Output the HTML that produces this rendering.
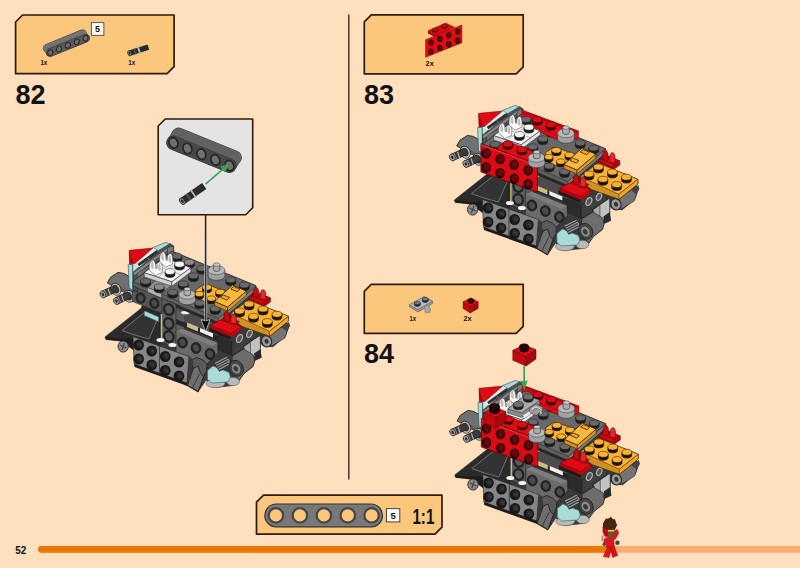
<!DOCTYPE html>
<html lang="en"><head><meta charset="utf-8"><title>Building instructions - page 52</title>
<style>
html,body{margin:0;padding:0;background:#FEE0BE;}
body{width:800px;height:568px;overflow:hidden;}
svg{display:block;}
text{font-family:"Liberation Sans",sans-serif;}
</style></head><body>
<svg width="800" height="568" viewBox="0 0 800 568">
<rect width="800" height="568" fill="#FEE0BE"/>
<line x1="348.8" y1="14.5" x2="348.8" y2="479.5" stroke="#3a2a1c" stroke-width="1.4"/>
<polygon points="22.6,15.0 174.1,15.0 174.1,66.7 167.1,73.7 15.6,73.7 15.6,22.0" fill="#FBC77D" stroke="#2e1a08" stroke-width="1.7" stroke-linejoin="round"/>
<polygon points="371.3,14.8 523.2,14.8 523.2,66.8 516.2,73.8 364.3,73.8 364.3,21.8" fill="#FBC77D" stroke="#2e1a08" stroke-width="1.7" stroke-linejoin="round"/>
<polygon points="371.3,284.3 523.2,284.3 523.2,326.3 516.2,333.3 364.3,333.3 364.3,291.3" fill="#FBC77D" stroke="#2e1a08" stroke-width="1.7" stroke-linejoin="round"/>
<text x="15.6" y="104.4" font-size="27" font-weight="bold" text-anchor="start" fill="#111">82</text>
<text x="364.0" y="104.3" font-size="27" font-weight="bold" text-anchor="start" fill="#111">83</text>
<text x="364.0" y="363.1" font-size="27" font-weight="bold" text-anchor="start" fill="#111">84</text>
<polygon points="165.2,119.0 252.7,119.0 252.7,207.8 245.7,214.8 158.2,214.8 158.2,126.0" fill="#E4E4E4" stroke="#2e1a08" stroke-width="1.6" stroke-linejoin="round"/>
<line x1="205.6" y1="215" x2="205.6" y2="240" stroke="#2a2a2a" stroke-width="1.6"/>
<polygon points="263.5,495.2 442.0,495.2 442.0,527.2 435.0,534.2 256.5,534.2 256.5,502.2" fill="#FBC77D" stroke="#2e1a08" stroke-width="1.7" stroke-linejoin="round"/>
<rect x="264.8" y="504" width="117.7" height="22.8" rx="11.4" fill="#787878" stroke="#333" stroke-width="1.2"/>
<circle cx="275.9" cy="515.4" r="7.2" fill="#FBC77D" stroke="#454545" stroke-width="2.2"/>
<circle cx="299.9" cy="515.4" r="7.2" fill="#FBC77D" stroke="#454545" stroke-width="2.2"/>
<circle cx="323.9" cy="515.4" r="7.2" fill="#FBC77D" stroke="#454545" stroke-width="2.2"/>
<circle cx="347.8" cy="515.4" r="7.2" fill="#FBC77D" stroke="#454545" stroke-width="2.2"/>
<circle cx="371.6" cy="515.4" r="7.2" fill="#FBC77D" stroke="#454545" stroke-width="2.2"/>
<rect x="386.4" y="508.7" width="13.4" height="13.2" fill="#fff" stroke="#333" stroke-width="0.9"/>
<text x="393.1" y="518.7" font-size="9.5" font-weight="bold" text-anchor="middle" fill="#111">5</text>
<text x="412.4" y="524.0" font-size="22" font-weight="bold" text-anchor="start" fill="#111" textLength="22" lengthAdjust="spacingAndGlyphs">1:1</text>
<rect x="91.3" y="22.7" width="12.6" height="12.6" fill="#fff" stroke="#333" stroke-width="0.8"/>
<text x="97.6" y="32.2" font-size="9" font-weight="bold" text-anchor="middle" fill="#111">5</text>
<text x="40.4" y="65.4" font-size="7.5" font-weight="bold" text-anchor="start" fill="#111" textLength="6.9" lengthAdjust="spacingAndGlyphs">1x</text>
<text x="128.3" y="65.4" font-size="7.5" font-weight="bold" text-anchor="start" fill="#111" textLength="6.9" lengthAdjust="spacingAndGlyphs">1x</text>
<text x="425.6" y="65.6" font-size="7.5" font-weight="bold" text-anchor="start" fill="#111" textLength="8.1" lengthAdjust="spacingAndGlyphs">2x</text>
<text x="409.4" y="321.0" font-size="7.5" font-weight="bold" text-anchor="start" fill="#111" textLength="6.6" lengthAdjust="spacingAndGlyphs">1x</text>
<text x="463.4" y="321.0" font-size="7.5" font-weight="bold" text-anchor="start" fill="#111" textLength="8.1" lengthAdjust="spacingAndGlyphs">2x</text>
<text x="15.2" y="553.6" font-size="10" font-weight="bold" text-anchor="start" fill="#111">52</text>
<line x1="41.5" y1="549.3" x2="800" y2="549.3" stroke="#F5AE6E" stroke-width="6.8" stroke-linecap="round"/>
<line x1="41.5" y1="549.3" x2="606" y2="549.3" stroke="#EC7706" stroke-width="6.8" stroke-linecap="round"/>
<g transform="translate(0.0,0.0)">
<polygon points="107.3,283.0 110.5,277.3 118.0,272.4 123.5,273.3 128.5,276.0 133.0,280.0 133.0,302.0 129.5,299.5 128.5,293.5 121.5,291.0 116.5,286.6 110.5,284.6" fill="#707070" stroke="#1e1e1e" stroke-width="0.9" stroke-linejoin="round"/>
<polygon points="116.5,286.6 121.5,291.0 128.5,293.5 129.5,299.5 133.0,302.0 133.0,294.0 126.0,290.0 120.0,286.0" fill="#5e5e5e"/>
<ellipse cx="115.8" cy="289.2" rx="4.9" ry="6.2" fill="#6a6a6a" stroke="#262626" stroke-width="0.8" transform="rotate(-25 115.8 289.2)"/>
<ellipse cx="115.8" cy="289.2" rx="3.8" ry="5.1" fill="#3a3a3a" stroke="#c4c4c4" stroke-width="1.3" transform="rotate(-25 115.8 289.2)"/>
<ellipse cx="128.8" cy="296.2" rx="4.9" ry="6.2" fill="#6a6a6a" stroke="#262626" stroke-width="0.8" transform="rotate(-25 128.8 296.2)"/>
<ellipse cx="128.8" cy="296.2" rx="3.8" ry="5.1" fill="#3a3a3a" stroke="#c4c4c4" stroke-width="1.3" transform="rotate(-25 128.8 296.2)"/>
<line x1="102.9" y1="294.4" x2="116.0" y2="288.4" stroke="#1f1f1f" stroke-width="7.6" stroke-linecap="butt"/>
<line x1="102.9" y1="294.4" x2="116.0" y2="288.4" stroke="#3b3b3b" stroke-width="6.2" stroke-linecap="butt"/>
<line x1="102.9" y1="294.4" x2="106.3" y2="292.8" stroke="#8f8f8f" stroke-width="6.2"/>
<ellipse cx="102.9" cy="294.4" rx="2.7" ry="3.6" fill="#a8a8a8" stroke="#2a2a2a" stroke-width="0.8" transform="rotate(-25 102.9 294.4)"/>
<ellipse cx="102.9" cy="294.4" rx="1.2" ry="1.7" fill="#2a2a2a" transform="rotate(-25 102.9 294.4)"/>
<line x1="108.1" y1="288.8" x2="110.3" y2="295.0" stroke="#b5b5b5" stroke-width="1.2"/>
<line x1="116.4" y1="301.0" x2="129.4" y2="294.8" stroke="#1f1f1f" stroke-width="7.6" stroke-linecap="butt"/>
<line x1="116.4" y1="301.0" x2="129.4" y2="294.8" stroke="#3b3b3b" stroke-width="6.2" stroke-linecap="butt"/>
<line x1="116.4" y1="301.0" x2="119.8" y2="299.4" stroke="#8f8f8f" stroke-width="6.2"/>
<ellipse cx="116.4" cy="301.0" rx="2.7" ry="3.6" fill="#a8a8a8" stroke="#2a2a2a" stroke-width="0.8" transform="rotate(-25 116.4 301.0)"/>
<ellipse cx="116.4" cy="301.0" rx="1.2" ry="1.7" fill="#2a2a2a" transform="rotate(-25 116.4 301.0)"/>
<line x1="121.6" y1="295.4" x2="123.8" y2="301.6" stroke="#b5b5b5" stroke-width="1.2"/>
<polygon points="105.0,337.0 141.0,308.5 143.0,304.0 162.0,311.0 162.0,350.0 134.0,341.0 120.0,341.0 106.0,339.5" fill="#2b2b2b" stroke="#1e1e1e" stroke-width="0.6" stroke-linejoin="round"/>
<polygon points="122.0,330.5 145.0,312.0 158.0,318.0 149.0,339.0 133.0,334.5" fill="#333" stroke="#8c8c8c" stroke-width="0.7" stroke-linejoin="round"/>
<polygon points="144.5,311.0 158.5,317.0 158.5,321.5 144.5,315.5" fill="#a9dcd8" stroke="#5c8f8c" stroke-width="0.5" stroke-linejoin="round"/>
<polygon points="118.0,340.0 134.5,340.0 134.5,351.0 127.0,345.5" fill="#1c1c1c"/>
<ellipse cx="123.2" cy="346.5" rx="5.2" ry="5.6" fill="#8a8a8a" stroke="#333" stroke-width="1"/>
<path d="M120,345 l6.5,3 M124.5,343 l-2.5,7" stroke="#444" stroke-width="1.2"/>
<polygon points="105.0,337.0 122.0,339.0 134.0,338.0 134.0,345.0 128.0,341.5 118.0,340.5 106.0,339.5" fill="#1c1c1c"/>
<polygon points="160.0,296.0 176.0,302.0 218.0,318.0 256.0,290.0 260.0,305.0 284.0,321.0 289.5,325.0 285.5,336.0 273.0,346.8 263.0,345.8 260.5,343.0 260.3,352.0 261.3,357.5 254.8,360.5 253.0,366.5 244.0,373.5 239.5,380.0 233.0,385.5 215.0,387.5 206.0,380.0 198.0,392.0 186.0,385.0 176.0,378.0 160.0,345.0" fill="#3a3a3a" stroke="#1e1e1e" stroke-width="0.6" stroke-linejoin="round"/>
<polygon points="176.0,304.0 218.0,322.0 218.0,336.0 176.0,319.0" fill="#4c4c4c"/>
<polygon points="176.0,310.0 184.0,313.5 184.0,345.0 176.0,342.0" fill="#5e5e5e"/>
<polygon points="161.5,296.5 176.0,302.5 176.0,348.0 161.5,342.0" fill="#5c5c5c" stroke="#1e1e1e" stroke-width="0.5" stroke-linejoin="round"/>
<ellipse cx="168.8" cy="309.5" rx="4.6" ry="5.4" fill="#5a5a5a" stroke="#222" stroke-width="2.3" transform="rotate(-20 168.8 309.5)"/>
<ellipse cx="168.8" cy="323.5" rx="4.6" ry="5.4" fill="#5a5a5a" stroke="#222" stroke-width="2.3" transform="rotate(-20 168.8 323.5)"/>
<ellipse cx="168.8" cy="336.5" rx="4.6" ry="5.4" fill="#5a5a5a" stroke="#222" stroke-width="2.3" transform="rotate(-20 168.8 336.5)"/>
<line x1="161.5" y1="314" x2="161.5" y2="338" stroke="#cdbb7a" stroke-width="1.4"/>
<polygon points="176.0,319.0 218.0,336.0 218.0,341.0 176.0,324.0" fill="#262626"/>
<polygon points="187.0,322.5 198.0,327.0 198.0,331.5 187.0,327.0" fill="#cdbd85"/>
<polygon points="200.0,328.0 213.0,333.5 213.0,337.5 200.0,332.0" fill="#f2f2f2"/>
<ellipse cx="185.5" cy="312.6" rx="4.6" ry="2" fill="#f2f2f2" stroke="#333" stroke-width="0.4"/>
<polygon points="176.0,331.0 182.0,328.5 218.0,343.0 218.0,352.5 205.0,366.0 176.0,354.0" fill="#6a6a6a" stroke="#1e1e1e" stroke-width="0.5" stroke-linejoin="round"/>
<polygon points="176.0,331.0 182.0,328.5 218.0,343.0 212.0,346.0" fill="#7d7d7d"/>
<ellipse cx="182.5" cy="342.5" rx="4.2" ry="4.8" fill="#4a4a4a" stroke="#222" stroke-width="2.3" transform="rotate(-20 182.5 342.5)"/>
<ellipse cx="196.0" cy="348.0" rx="4.2" ry="4.8" fill="#4a4a4a" stroke="#222" stroke-width="2.3" transform="rotate(-20 196.0 348.0)"/>
<ellipse cx="210.0" cy="354.0" rx="4.2" ry="4.8" fill="#4a4a4a" stroke="#222" stroke-width="2.3" transform="rotate(-20 210.0 354.0)"/>
<polygon points="243.5,346.8 259.5,336.0 260.3,337.0 260.3,352.5 254.0,357.0 246.0,353.0" fill="#a6a6a6" stroke="#1e1e1e" stroke-width="0.5" stroke-linejoin="round"/>
<polygon points="250.5,342.3 259.5,336.2 259.8,352.3 254.0,356.5 250.5,354.5" fill="#c2c2c2"/>
<line x1="250.5" y1="342.3" x2="250.5" y2="354.5" stroke="#444" stroke-width="0.7"/>
<polygon points="254.0,353.5 260.5,349.0 261.3,357.5 255.0,360.3" fill="#2a2a2a"/>
<polygon points="262.0,338.0 282.0,327.0 287.0,331.0 285.0,338.0 271.0,346.5 264.0,346.0" fill="#747474" stroke="#1e1e1e" stroke-width="0.5" stroke-linejoin="round"/>
<ellipse cx="266.6" cy="341.3" rx="5" ry="5.8" fill="#9a9a9a" stroke="#2a2a2a" stroke-width="1.2" transform="rotate(-25 266.6 341.3)"/>
<ellipse cx="266.6" cy="341.3" rx="2" ry="2.5" fill="#333" transform="rotate(-25 266.6 341.3)"/>
<polygon points="282.0,327.0 289.0,322.0 290.0,326.0 287.0,331.0" fill="#444"/>
<polygon points="218.0,336.0 232.0,342.0 232.0,355.5 218.0,349.5" fill="#2b2b2b" stroke="#1e1e1e" stroke-width="0.5" stroke-linejoin="round"/>
<polygon points="232.0,342.0 257.0,330.5 257.0,337.0 243.0,346.5 243.0,349.0 232.0,355.5" fill="#3e3e3e" stroke="#1e1e1e" stroke-width="0.5" stroke-linejoin="round"/>
<ellipse cx="239.5" cy="338.5" rx="2.6" ry="4.2" fill="#555" stroke="#bdbdbd" stroke-width="1.1" transform="rotate(25 239.5 338.5)"/>
<ellipse cx="249.5" cy="333.8" rx="2.4" ry="3.8" fill="#555" stroke="#bdbdbd" stroke-width="1.1" transform="rotate(25 249.5 333.8)"/>
<polygon points="209.0,327.5 231.0,336.5 231.0,340.0 209.0,331.0" fill="#1c1c1c"/>
<polygon points="191.5,360.0 197.0,357.5 203.0,360.0 207.0,364.5 206.5,370.5 203.5,376.5 199.0,373.0 193.0,369.0" fill="#5a5a5a" stroke="#1e1e1e" stroke-width="0.8" stroke-linejoin="round"/>
<polygon points="193.4,368.2 198.2,366.0 200.5,373.2 203.6,376.4 198.2,391.6 187.4,385.3" fill="#6f6f6f" stroke="#1e1e1e" stroke-width="0.9" stroke-linejoin="round"/>
<line x1="199.4" y1="374" x2="192.2" y2="388.4" stroke="#2a2a2a" stroke-width="0.8"/>
<ellipse cx="215.5" cy="383.5" rx="9.5" ry="4.2" fill="#b9b9b9" stroke="#555" stroke-width="0.6"/>
<ellipse cx="233" cy="381.5" rx="6.5" ry="4.2" fill="#b9b9b9" stroke="#555" stroke-width="0.6"/>
<polygon points="207.5,370.5 213.0,366.0 229.0,372.5 230.5,377.0 228.0,382.0 212.0,383.0 207.5,379.5" fill="#a9dcd8" stroke="#3f6f6c" stroke-width="0.7" stroke-linejoin="round"/>
<polygon points="214.2,362.6 226.8,356.2 230.0,360.4 229.6,366.2 219.4,371.2" fill="#9c9c9c" stroke="#1e1e1e" stroke-width="0.7" stroke-linejoin="round"/>
<line x1="215.5" y1="364.4" x2="227.6" y2="358.2" stroke="#2e2e2e" stroke-width="1.1"/>
<line x1="216.8" y1="366.5" x2="228.3" y2="360.5" stroke="#2e2e2e" stroke-width="1.1"/>
<line x1="218.0" y1="368.6" x2="229.0" y2="362.8" stroke="#2e2e2e" stroke-width="1.1"/>
<line x1="219.2" y1="370.7" x2="229.7" y2="365.1" stroke="#2e2e2e" stroke-width="1.1"/>
<polygon points="232.5,356.0 243.5,349.0 253.5,355.0 254.6,361.0 253.0,366.5 244.0,373.5 239.5,380.0 231.0,372.0" fill="#6d6d6d" stroke="#1e1e1e" stroke-width="0.6" stroke-linejoin="round"/>
<ellipse cx="236.3" cy="368.3" rx="6.8" ry="8.2" fill="#4a4a4a" stroke="#1e1e1e" stroke-width="0.8" transform="rotate(-28 236.3 368.3)"/>
<ellipse cx="236" cy="368.6" rx="4.6" ry="5.8" fill="#8a8a8a" stroke="#2a2a2a" stroke-width="0.7" transform="rotate(-28 236 368.6)"/>
<ellipse cx="235.8" cy="368.8" rx="2.2" ry="2.9" fill="#3a3a3a" transform="rotate(-28 235.8 368.8)"/>
<polygon points="134.0,363.5 187.0,382.5 187.5,386.0 134.5,367.0" fill="#1c1c1c"/>
<polygon points="133.0,336.5 189.0,356.5 187.0,383.0 134.0,364.0" fill="#858585" stroke="#1e1e1e" stroke-width="0.6" stroke-linejoin="round"/>
<line x1="159.5" y1="346" x2="159.5" y2="373" stroke="#333" stroke-width="0.8"/>
<polygon points="189.0,356.5 193.0,359.0 191.0,378.0 187.0,383.0" fill="#3a3a3a"/>
<ellipse cx="138.7" cy="345.0" rx="5.3" ry="5.6" fill="#171717"/>
<ellipse cx="139.4" cy="344.6" rx="3.1" ry="3.3" fill="#2b2b2b"/>
<path d="M138.1,344.2 q2.6,-1 2.8,2.4" fill="none" stroke="#4a4a4a" stroke-width="0.8"/>
<ellipse cx="151.7" cy="351.0" rx="5.3" ry="5.6" fill="#171717"/>
<ellipse cx="152.4" cy="350.6" rx="3.1" ry="3.3" fill="#2b2b2b"/>
<path d="M151.1,350.2 q2.6,-1 2.8,2.4" fill="none" stroke="#4a4a4a" stroke-width="0.8"/>
<ellipse cx="165.2" cy="356.5" rx="5.3" ry="5.6" fill="#171717"/>
<ellipse cx="165.9" cy="356.1" rx="3.1" ry="3.3" fill="#2b2b2b"/>
<path d="M164.6,355.7 q2.6,-1 2.8,2.4" fill="none" stroke="#4a4a4a" stroke-width="0.8"/>
<ellipse cx="179.0" cy="362.0" rx="5.3" ry="5.6" fill="#171717"/>
<ellipse cx="179.7" cy="361.6" rx="3.1" ry="3.3" fill="#2b2b2b"/>
<path d="M178.4,361.2 q2.6,-1 2.8,2.4" fill="none" stroke="#4a4a4a" stroke-width="0.8"/>
<ellipse cx="138.7" cy="359.0" rx="5.3" ry="5.6" fill="#171717"/>
<ellipse cx="139.4" cy="358.6" rx="3.1" ry="3.3" fill="#2b2b2b"/>
<path d="M138.1,358.2 q2.6,-1 2.8,2.4" fill="none" stroke="#4a4a4a" stroke-width="0.8"/>
<ellipse cx="151.7" cy="365.0" rx="5.3" ry="5.6" fill="#171717"/>
<ellipse cx="152.4" cy="364.6" rx="3.1" ry="3.3" fill="#2b2b2b"/>
<path d="M151.1,364.2 q2.6,-1 2.8,2.4" fill="none" stroke="#4a4a4a" stroke-width="0.8"/>
<ellipse cx="165.2" cy="370.5" rx="5.3" ry="5.6" fill="#171717"/>
<ellipse cx="165.9" cy="370.1" rx="3.1" ry="3.3" fill="#2b2b2b"/>
<path d="M164.6,369.7 q2.6,-1 2.8,2.4" fill="none" stroke="#4a4a4a" stroke-width="0.8"/>
<ellipse cx="179.0" cy="376.0" rx="5.3" ry="5.6" fill="#171717"/>
<ellipse cx="179.7" cy="375.6" rx="3.1" ry="3.3" fill="#2b2b2b"/>
<path d="M178.4,375.2 q2.6,-1 2.8,2.4" fill="none" stroke="#4a4a4a" stroke-width="0.8"/>
<ellipse cx="160.5" cy="340" rx="4" ry="2" fill="#f5f5f5"/>
<ellipse cx="172.5" cy="345" rx="4" ry="2" fill="#f5f5f5"/>
<polygon points="132.5,285.0 162.0,297.0 162.0,313.5 132.5,301.5" fill="#565656" stroke="#1e1e1e" stroke-width="0.5" stroke-linejoin="round"/>
<ellipse cx="140.7" cy="298.0" rx="3.9" ry="4.6" fill="#4a4a4a" stroke="#242424" stroke-width="2.3" transform="rotate(-20 140.7 298.0)"/>
<ellipse cx="154.3" cy="303.3" rx="3.9" ry="4.6" fill="#4a4a4a" stroke="#242424" stroke-width="2.3" transform="rotate(-20 154.3 303.3)"/>
<polygon points="128.2,264.5 133.0,264.0 133.0,290.5 129.2,288.0" fill="#a9dcd8" stroke="#2f4f4d" stroke-width="0.6" stroke-linejoin="round"/>
<polygon points="133.0,264.0 170.0,243.6 173.6,246.0 173.6,253.0 138.0,273.0 137.5,292.0 133.0,290.5" fill="#515151" stroke="#1e1e1e" stroke-width="0.7" stroke-linejoin="round"/>
<polygon points="137.8,273.2 173.4,253.0 173.4,259.0 147.0,273.0 147.0,283.0 137.8,279.0" fill="#707070"/>
<polygon points="133.2,273.5 170.4,246.2 171.8,247.2 134.6,275.0" fill="#8d8d8d"/>
<polygon points="167.6,247.4 173.6,246.0 173.6,253.2 167.6,256.4" fill="#7a7a7a" stroke="#1e1e1e" stroke-width="0.5" stroke-linejoin="round"/>
<polygon points="152.7,247.6 166.0,242.3 169.4,244.0 158.4,250.6" fill="#a9dcd8" stroke="#2f4f4d" stroke-width="0.6" stroke-linejoin="round"/>
<polygon points="129.5,264.0 137.0,263.6 139.8,266.2 133.0,272.0 133.0,264.5" fill="#c5e6e3" stroke="#2f4f4d" stroke-width="0.4" stroke-linejoin="round"/>
<polygon points="133.0,264.2 152.9,247.9 158.0,250.8 139.5,267.0" fill="#d9efed"/>
<polygon points="129.2,250.3 152.9,248.1 135.0,263.6 129.6,264.0" fill="#df0a14" stroke="#5a0a0e" stroke-width="0.5" stroke-linejoin="round"/>
<polygon points="129.2,250.3 133.5,263.0 129.6,264.0" fill="#a90a10"/>
<polygon points="137.3,263.9 156.7,250.1 158.5,252.5 139.1,266.3" fill="#303030"/>
<line x1="147" y1="257.5" x2="149.5" y2="260" stroke="#999" stroke-width="0.7"/>
<polygon points="176.0,304.4 218.5,322.5 218.5,325.3 176.0,307.2" fill="#262626"/>
<polygon points="133.0,281.5 172.0,251.2 256.0,285.7 256.0,290.0 218.5,322.5 133.0,286.0" fill="#5f5f5f" stroke="#1e1e1e" stroke-width="0.6" stroke-linejoin="round"/>
<polygon points="218.5,318.5 256.0,286.0 256.0,290.0 218.5,322.5" fill="#7c7c7c" stroke="#1e1e1e" stroke-width="0.4" stroke-linejoin="round"/>
<polygon points="133.0,281.5 172.0,251.2 256.0,285.7 218.5,318.5" fill="#686868" stroke="#1e1e1e" stroke-width="0.5" stroke-linejoin="round"/>
<polygon points="147.5,287.5 157.0,279.5 171.0,285.5 161.5,293.5" fill="#8f8f8f" stroke="#1e1e1e" stroke-width="0.4" stroke-linejoin="round"/>
<polygon points="147.5,287.5 161.5,293.5 161.5,298.0 147.5,292.0" fill="#b4b4b4" stroke="#1e1e1e" stroke-width="0.4" stroke-linejoin="round"/>
<path d="M140.7,281.2 v2.8 a4.9,3.0 0 0 0 9.8,0 v-2.8 z" fill="#1c1c1c" stroke="#1e1e1e" stroke-width="0.7"/>
<ellipse cx="145.6" cy="281.2" rx="4.9" ry="3.0" fill="#686868" stroke="#1e1e1e" stroke-width="0.5"/>
<path d="M154.4,287.0 v2.8 a4.9,3.0 0 0 0 9.8,0 v-2.8 z" fill="#1c1c1c" stroke="#1e1e1e" stroke-width="0.7"/>
<ellipse cx="159.3" cy="287.0" rx="4.9" ry="3.0" fill="#8a8a8a" stroke="#1e1e1e" stroke-width="0.5"/>
<path d="M167.8,292.2 v2.8 a4.9,3.0 0 0 0 9.8,0 v-2.8 z" fill="#1c1c1c" stroke="#1e1e1e" stroke-width="0.7"/>
<ellipse cx="172.7" cy="292.2" rx="4.9" ry="3.0" fill="#686868" stroke="#1e1e1e" stroke-width="0.5"/>
<path d="M188.5,275.8 v2.8 a4.9,3.0 0 0 0 9.8,0 v-2.8 z" fill="#1c1c1c" stroke="#1e1e1e" stroke-width="0.7"/>
<ellipse cx="193.4" cy="275.8" rx="4.9" ry="3.0" fill="#686868" stroke="#1e1e1e" stroke-width="0.5"/>
<path d="M178.5,283.8 v2.8 a4.9,3.0 0 0 0 9.8,0 v-2.8 z" fill="#1c1c1c" stroke="#1e1e1e" stroke-width="0.7"/>
<ellipse cx="183.4" cy="283.8" rx="4.9" ry="3.0" fill="#686868" stroke="#1e1e1e" stroke-width="0.5"/>
<path d="M172.1,256.0 v2.8 a4.9,3.0 0 0 0 9.8,0 v-2.8 z" fill="#1c1c1c" stroke="#1e1e1e" stroke-width="0.7"/>
<ellipse cx="177.0" cy="256.0" rx="4.9" ry="3.0" fill="#686868" stroke="#1e1e1e" stroke-width="0.5"/>
<path d="M184.5,262.3 v2.8 a4.9,3.0 0 0 0 9.8,0 v-2.8 z" fill="#1c1c1c" stroke="#1e1e1e" stroke-width="0.7"/>
<ellipse cx="189.4" cy="262.3" rx="4.9" ry="3.0" fill="#8a8a8a" stroke="#1e1e1e" stroke-width="0.5"/>
<path d="M196.9,268.3 v2.8 a4.9,3.0 0 0 0 9.8,0 v-2.8 z" fill="#1c1c1c" stroke="#1e1e1e" stroke-width="0.7"/>
<ellipse cx="201.8" cy="268.3" rx="4.9" ry="3.0" fill="#686868" stroke="#1e1e1e" stroke-width="0.5"/>
<path d="M194.9,303.0 v2.8 a4.9,3.0 0 0 0 9.8,0 v-2.8 z" fill="#1c1c1c" stroke="#1e1e1e" stroke-width="0.7"/>
<ellipse cx="199.8" cy="303.0" rx="4.9" ry="3.0" fill="#686868" stroke="#1e1e1e" stroke-width="0.5"/>
<path d="M210.3,308.6 v2.8 a4.9,3.0 0 0 0 9.8,0 v-2.8 z" fill="#1c1c1c" stroke="#1e1e1e" stroke-width="0.7"/>
<ellipse cx="215.2" cy="308.6" rx="4.9" ry="3.0" fill="#686868" stroke="#1e1e1e" stroke-width="0.5"/>
<path d="M225.9,279.8 v2.8 a4.9,3.0 0 0 0 9.8,0 v-2.8 z" fill="#1c1c1c" stroke="#1e1e1e" stroke-width="0.7"/>
<ellipse cx="230.8" cy="279.8" rx="4.9" ry="3.0" fill="#686868" stroke="#1e1e1e" stroke-width="0.5"/>
<path d="M239.5,285.0 v2.8 a4.9,3.0 0 0 0 9.8,0 v-2.8 z" fill="#1c1c1c" stroke="#1e1e1e" stroke-width="0.7"/>
<ellipse cx="244.4" cy="285.0" rx="4.9" ry="3.0" fill="#686868" stroke="#1e1e1e" stroke-width="0.5"/>
<polygon points="144.2,272.7 164.5,257.5 190.8,267.8 171.8,281.8" fill="#f5f5f5" stroke="#1e1e1e" stroke-width="0.6" stroke-linejoin="round"/>
<polygon points="144.2,272.7 171.8,281.8 171.8,286.2 144.2,277.0" fill="#cfcfcf" stroke="#1e1e1e" stroke-width="0.5" stroke-linejoin="round"/>
<polygon points="171.8,281.8 190.8,267.8 190.8,272.0 171.8,286.2" fill="#e6e6e6" stroke="#1e1e1e" stroke-width="0.5" stroke-linejoin="round"/>
<path d="M158,277.2 L177.6,262.6 M154.3,265 L181.3,274.8" stroke="#777" stroke-width="0.5" fill="none"/>
<path d="M165.1,271.6 v2.8 a4.9,3.0 0 0 0 9.8,0 v-2.8 z" fill="#1a1a1a" stroke="#1e1e1e" stroke-width="0.7"/>
<ellipse cx="170.0" cy="271.6" rx="4.9" ry="3.0" fill="#f5f5f5" stroke="#1e1e1e" stroke-width="0.5"/>
<path d="M174.6,264.2 v2.8 a4.9,3.0 0 0 0 9.8,0 v-2.8 z" fill="#1a1a1a" stroke="#1e1e1e" stroke-width="0.7"/>
<ellipse cx="179.5" cy="264.2" rx="4.9" ry="3.0" fill="#f5f5f5" stroke="#1e1e1e" stroke-width="0.5"/>
<path d="M149.6,270.5 C148.4,264.5 150.4,260.5 153.4,260.0 C155.4,262.0 156.0,265.0 155.6,268.2 L157.0,268.8 C156.6,264.5 158.0,261.5 160.6,261.8 C162.6,264.2 162.8,268.5 162.2,272.5 L155.5,275.5 Z" fill="#fbfbfb" stroke="#4a4a4a" stroke-width="0.6"/>
<path d="M151.6,268.6 c-1.4,-3 -0.8,-6 1,-7.6 c1,2.4 1.2,5 0.8,8.4 z" fill="#bdbdbd"/>
<path d="M158.8,270.6 c-1.4,-3 -0.8,-6 1,-7.6 c1,2.4 1.2,5 0.8,8.4 z" fill="#bdbdbd"/>
<path d="M159.9,262.2 C158.7,256.2 160.7,252.2 163.7,251.7 C165.7,253.7 166.3,256.7 165.9,259.9 L167.3,260.5 C166.9,256.2 168.3,253.2 170.9,253.5 C172.9,255.9 173.1,260.2 172.5,264.2 L165.8,267.2 Z" fill="#fbfbfb" stroke="#4a4a4a" stroke-width="0.6"/>
<path d="M161.9,260.3 c-1.4,-3 -0.8,-6 1,-7.6 c1,2.4 1.2,5 0.8,8.4 z" fill="#bdbdbd"/>
<path d="M169.1,262.3 c-1.4,-3 -0.8,-6 1,-7.6 c1,2.4 1.2,5 0.8,8.4 z" fill="#bdbdbd"/>
<path d="M178.8,294.6 v5.6 a8.4,4.6 0 0 0 16.8,0 v-5.6 z" fill="#a0a0a0" stroke="#3c3c3c" stroke-width="0.7"/>
<ellipse cx="187.2" cy="294.6" rx="8.4" ry="4.6" fill="#b8b8b8" stroke="#3c3c3c" stroke-width="0.5"/>
<path d="M184.0,289.0 v5.0 a3.3,1.8 0 0 0 6.6,0 v-5.0 z" fill="#adadad" stroke="#3c3c3c" stroke-width="0.7"/>
<ellipse cx="187.3" cy="289.0" rx="3.3" ry="1.8" fill="#c8c8c8" stroke="#3c3c3c" stroke-width="0.5"/>
<path d="M208.1,270.2 v5.6 a8.4,4.6 0 0 0 16.8,0 v-5.6 z" fill="#a0a0a0" stroke="#3c3c3c" stroke-width="0.7"/>
<ellipse cx="216.5" cy="270.2" rx="8.4" ry="4.6" fill="#b8b8b8" stroke="#3c3c3c" stroke-width="0.5"/>
<path d="M213.3,264.6 v5.0 a3.3,1.8 0 0 0 6.6,0 v-5.0 z" fill="#adadad" stroke="#3c3c3c" stroke-width="0.7"/>
<ellipse cx="216.6" cy="264.6" rx="3.3" ry="1.8" fill="#c8c8c8" stroke="#3c3c3c" stroke-width="0.5"/>
<polygon points="195.8,290.0 203.6,284.4 212.7,286.6 227.0,291.5 217.0,302.0 208.0,303.5 197.0,297.5" fill="#f8b336" stroke="#2e1c04" stroke-width="0.7" stroke-linejoin="round"/>
<path d="M202.4,287.3 v2.6 a4.6,2.8 0 0 0 9.2,0 v-2.6 z" fill="#1e1203" stroke="#1e1203" stroke-width="0.7"/>
<ellipse cx="207.0" cy="287.3" rx="4.6" ry="2.8" fill="#f8b336" stroke="#1e1203" stroke-width="0.5"/>
<path d="M215.6,292.0 v2.6 a4.6,2.8 0 0 0 9.2,0 v-2.6 z" fill="#1e1203" stroke="#1e1203" stroke-width="0.7"/>
<ellipse cx="220.2" cy="292.0" rx="4.6" ry="2.8" fill="#f8b336" stroke="#1e1203" stroke-width="0.5"/>
<path d="M195.2,294.0 v2.6 a4.2,2.6 0 0 0 8.4,0 v-2.6 z" fill="#1e1203" stroke="#1e1203" stroke-width="0.7"/>
<ellipse cx="199.4" cy="294.0" rx="4.2" ry="2.6" fill="#f8b336" stroke="#1e1203" stroke-width="0.5"/>
<path d="M207.2,298.5 v2.6 a4.2,2.6 0 0 0 8.4,0 v-2.6 z" fill="#1e1203" stroke="#1e1203" stroke-width="0.7"/>
<ellipse cx="211.4" cy="298.5" rx="4.2" ry="2.6" fill="#f8b336" stroke="#1e1203" stroke-width="0.5"/>
<polygon points="214.6,301.5 232.6,285.0 246.4,291.2 227.6,307.2" fill="#f9b93f" stroke="#2e1c04" stroke-width="0.8" stroke-linejoin="round"/>
<polygon points="214.6,301.5 227.6,307.2 227.6,311.2 214.6,305.5" fill="#d48f22" stroke="#2e1c04" stroke-width="0.6" stroke-linejoin="round"/>
<polygon points="227.6,307.2 246.4,291.2 246.4,295.2 227.6,311.2" fill="#e09a28" stroke="#2e1c04" stroke-width="0.6" stroke-linejoin="round"/>
<polygon points="220.4,297.4 223.2,294.9 229.6,297.6 226.8,300.1" fill="#f3a92c" stroke="#2e1c04" stroke-width="0.8" stroke-linejoin="round"/>
<polygon points="230.8,289.0 233.6,286.5 240.0,289.2 237.2,291.7" fill="#f3a92c" stroke="#2e1c04" stroke-width="0.8" stroke-linejoin="round"/>
<polygon points="249.0,297.5 256.0,292.5 270.5,298.0 270.5,302.0 262.0,308.0 249.0,301.0" fill="#a90a10" stroke="#5a0508" stroke-width="0.5" stroke-linejoin="round"/>
<polygon points="249.0,297.5 256.0,292.5 270.5,298.0 262.0,304.0" fill="#df0a14" stroke="#5a0508" stroke-width="0.4" stroke-linejoin="round"/>
<polygon points="250.5,296.0 255.5,292.5 269.0,297.5 264.0,301.5" fill="#df0a14" stroke="#4a0508" stroke-width="0.5" stroke-linejoin="round"/>
<path d="M253.3,296.9 C252.5,291.9 253.7,287.5 256.1,287.5 C258.7,287.5 259.1,292.9 258.5,297.5 Z" fill="#c9080f" stroke="#4a0508" stroke-width="0.6"/>
<path d="M260.3,299.1 C259.5,294.1 260.7,289.7 263.1,289.7 C265.7,289.7 266.1,295.1 265.5,299.7 Z" fill="#e8242c" stroke="#4a0508" stroke-width="0.6"/>
<polygon points="231.0,313.5 248.5,300.0 288.5,316.3 288.5,321.0 269.5,336.3 242.0,326.5 231.0,318.0" fill="#d48f22" stroke="#2e1c04" stroke-width="0.6" stroke-linejoin="round"/>
<polygon points="231.0,313.5 248.5,300.0 288.5,316.3 269.5,331.3" fill="#f8b336" stroke="#2e1c04" stroke-width="0.5" stroke-linejoin="round"/>
<polygon points="269.5,331.3 288.5,316.3 288.5,321.0 269.5,336.3" fill="#f2a62e" stroke="#2e1c04" stroke-width="0.5" stroke-linejoin="round"/>
<path d="M244.1,304.0 v2.9 a4.9,3.0 0 0 0 9.8,0 v-2.9 z" fill="#1e1203" stroke="#1e1203" stroke-width="0.7"/>
<ellipse cx="249.0" cy="304.0" rx="4.9" ry="3.0" fill="#f9b132" stroke="#1e1203" stroke-width="0.5"/>
<path d="M258.1,309.0 v2.9 a4.9,3.0 0 0 0 9.8,0 v-2.9 z" fill="#1e1203" stroke="#1e1203" stroke-width="0.7"/>
<ellipse cx="263.0" cy="309.0" rx="4.9" ry="3.0" fill="#f9b132" stroke="#1e1203" stroke-width="0.5"/>
<path d="M272.1,314.2 v2.9 a4.9,3.0 0 0 0 9.8,0 v-2.9 z" fill="#1e1203" stroke="#1e1203" stroke-width="0.7"/>
<ellipse cx="277.0" cy="314.2" rx="4.9" ry="3.0" fill="#f9b132" stroke="#1e1203" stroke-width="0.5"/>
<path d="M234.6,311.0 v2.9 a4.9,3.0 0 0 0 9.8,0 v-2.9 z" fill="#1e1203" stroke="#1e1203" stroke-width="0.7"/>
<ellipse cx="239.5" cy="311.0" rx="4.9" ry="3.0" fill="#f9b132" stroke="#1e1203" stroke-width="0.5"/>
<path d="M248.6,316.3 v2.9 a4.9,3.0 0 0 0 9.8,0 v-2.9 z" fill="#1e1203" stroke="#1e1203" stroke-width="0.7"/>
<ellipse cx="253.5" cy="316.3" rx="4.9" ry="3.0" fill="#f9b132" stroke="#1e1203" stroke-width="0.5"/>
<path d="M262.4,321.6 v2.9 a4.9,3.0 0 0 0 9.8,0 v-2.9 z" fill="#1e1203" stroke="#1e1203" stroke-width="0.7"/>
<ellipse cx="267.3" cy="321.6" rx="4.9" ry="3.0" fill="#f9b132" stroke="#1e1203" stroke-width="0.5"/>
<polygon points="210.5,325.0 222.5,319.0 241.0,326.5 241.0,330.0 231.0,337.0 210.5,328.5" fill="#a90a10" stroke="#5a0508" stroke-width="0.5" stroke-linejoin="round"/>
<polygon points="231.0,333.5 241.0,326.5 241.0,330.0 231.0,337.0" fill="#c3080f"/>
<polygon points="210.5,325.0 222.5,319.0 241.0,326.5 231.0,333.5" fill="#df0a14" stroke="#5a0508" stroke-width="0.4" stroke-linejoin="round"/>
<polygon points="221.2,320.1 226.2,316.6 239.7,321.6 234.7,325.6" fill="#df0a14" stroke="#4a0508" stroke-width="0.5" stroke-linejoin="round"/>
<path d="M224.0,321.0 C223.2,316.0 224.4,311.6 226.8,311.6 C229.4,311.6 229.8,317.0 229.2,321.6 Z" fill="#c9080f" stroke="#4a0508" stroke-width="0.6"/>
<path d="M231.0,323.2 C230.2,318.2 231.4,313.8 233.8,313.8 C236.4,313.8 236.8,319.2 236.2,323.8 Z" fill="#e8242c" stroke="#4a0508" stroke-width="0.6"/>
<line x1="205.6" y1="238" x2="205.6" y2="322" stroke="#e8e8e8" stroke-width="3" opacity="0.75"/>
<line x1="205.6" y1="238" x2="205.6" y2="322" stroke="#2f2f2f" stroke-width="1.6"/>
<polygon points="201.2,319.6 205.6,320.8 210.0,319.6 205.6,331.8" fill="#0c0c0c" stroke="#f4f4f4" stroke-width="0.6" stroke-linejoin="round"/>
</g>
<g transform="translate(349.4,-137.0)">
<polygon points="107.3,283.0 110.5,277.3 118.0,272.4 123.5,273.3 128.5,276.0 133.0,280.0 133.0,302.0 129.5,299.5 128.5,293.5 121.5,291.0 116.5,286.6 110.5,284.6" fill="#707070" stroke="#1e1e1e" stroke-width="0.9" stroke-linejoin="round"/>
<polygon points="116.5,286.6 121.5,291.0 128.5,293.5 129.5,299.5 133.0,302.0 133.0,294.0 126.0,290.0 120.0,286.0" fill="#5e5e5e"/>
<ellipse cx="115.8" cy="289.2" rx="4.9" ry="6.2" fill="#6a6a6a" stroke="#262626" stroke-width="0.8" transform="rotate(-25 115.8 289.2)"/>
<ellipse cx="115.8" cy="289.2" rx="3.8" ry="5.1" fill="#3a3a3a" stroke="#c4c4c4" stroke-width="1.3" transform="rotate(-25 115.8 289.2)"/>
<ellipse cx="128.8" cy="296.2" rx="4.9" ry="6.2" fill="#6a6a6a" stroke="#262626" stroke-width="0.8" transform="rotate(-25 128.8 296.2)"/>
<ellipse cx="128.8" cy="296.2" rx="3.8" ry="5.1" fill="#3a3a3a" stroke="#c4c4c4" stroke-width="1.3" transform="rotate(-25 128.8 296.2)"/>
<line x1="102.9" y1="294.4" x2="116.0" y2="288.4" stroke="#1f1f1f" stroke-width="7.6" stroke-linecap="butt"/>
<line x1="102.9" y1="294.4" x2="116.0" y2="288.4" stroke="#3b3b3b" stroke-width="6.2" stroke-linecap="butt"/>
<line x1="102.9" y1="294.4" x2="106.3" y2="292.8" stroke="#8f8f8f" stroke-width="6.2"/>
<ellipse cx="102.9" cy="294.4" rx="2.7" ry="3.6" fill="#a8a8a8" stroke="#2a2a2a" stroke-width="0.8" transform="rotate(-25 102.9 294.4)"/>
<ellipse cx="102.9" cy="294.4" rx="1.2" ry="1.7" fill="#2a2a2a" transform="rotate(-25 102.9 294.4)"/>
<line x1="108.1" y1="288.8" x2="110.3" y2="295.0" stroke="#b5b5b5" stroke-width="1.2"/>
<line x1="116.4" y1="301.0" x2="129.4" y2="294.8" stroke="#1f1f1f" stroke-width="7.6" stroke-linecap="butt"/>
<line x1="116.4" y1="301.0" x2="129.4" y2="294.8" stroke="#3b3b3b" stroke-width="6.2" stroke-linecap="butt"/>
<line x1="116.4" y1="301.0" x2="119.8" y2="299.4" stroke="#8f8f8f" stroke-width="6.2"/>
<ellipse cx="116.4" cy="301.0" rx="2.7" ry="3.6" fill="#a8a8a8" stroke="#2a2a2a" stroke-width="0.8" transform="rotate(-25 116.4 301.0)"/>
<ellipse cx="116.4" cy="301.0" rx="1.2" ry="1.7" fill="#2a2a2a" transform="rotate(-25 116.4 301.0)"/>
<line x1="121.6" y1="295.4" x2="123.8" y2="301.6" stroke="#b5b5b5" stroke-width="1.2"/>
<polygon points="105.0,337.0 141.0,308.5 143.0,304.0 162.0,311.0 162.0,350.0 134.0,341.0 120.0,341.0 106.0,339.5" fill="#2b2b2b" stroke="#1e1e1e" stroke-width="0.6" stroke-linejoin="round"/>
<polygon points="122.0,330.5 145.0,312.0 158.0,318.0 149.0,339.0 133.0,334.5" fill="#333" stroke="#8c8c8c" stroke-width="0.7" stroke-linejoin="round"/>
<polygon points="118.0,340.0 134.5,340.0 134.5,351.0 127.0,345.5" fill="#1c1c1c"/>
<ellipse cx="123.2" cy="346.5" rx="5.2" ry="5.6" fill="#8a8a8a" stroke="#333" stroke-width="1"/>
<path d="M120,345 l6.5,3 M124.5,343 l-2.5,7" stroke="#444" stroke-width="1.2"/>
<polygon points="105.0,337.0 122.0,339.0 134.0,338.0 134.0,345.0 128.0,341.5 118.0,340.5 106.0,339.5" fill="#1c1c1c"/>
<polygon points="160.0,296.0 176.0,302.0 218.0,318.0 256.0,290.0 260.0,305.0 284.0,321.0 289.5,325.0 285.5,336.0 273.0,346.8 263.0,345.8 260.5,343.0 260.3,352.0 261.3,357.5 254.8,360.5 253.0,366.5 244.0,373.5 239.5,380.0 233.0,385.5 215.0,387.5 206.0,380.0 198.0,392.0 186.0,385.0 176.0,378.0 160.0,345.0" fill="#3a3a3a" stroke="#1e1e1e" stroke-width="0.6" stroke-linejoin="round"/>
<polygon points="176.0,304.0 218.0,322.0 218.0,336.0 176.0,319.0" fill="#4c4c4c"/>
<polygon points="176.0,310.0 184.0,313.5 184.0,345.0 176.0,342.0" fill="#5e5e5e"/>
<polygon points="161.5,296.5 176.0,302.5 176.0,348.0 161.5,342.0" fill="#5c5c5c" stroke="#1e1e1e" stroke-width="0.5" stroke-linejoin="round"/>
<ellipse cx="168.8" cy="309.5" rx="4.6" ry="5.4" fill="#5a5a5a" stroke="#222" stroke-width="2.3" transform="rotate(-20 168.8 309.5)"/>
<ellipse cx="168.8" cy="323.5" rx="4.6" ry="5.4" fill="#5a5a5a" stroke="#222" stroke-width="2.3" transform="rotate(-20 168.8 323.5)"/>
<ellipse cx="168.8" cy="336.5" rx="4.6" ry="5.4" fill="#5a5a5a" stroke="#222" stroke-width="2.3" transform="rotate(-20 168.8 336.5)"/>
<line x1="161.5" y1="314" x2="161.5" y2="338" stroke="#cdbb7a" stroke-width="1.4"/>
<polygon points="176.0,319.0 218.0,336.0 218.0,341.0 176.0,324.0" fill="#262626"/>
<polygon points="187.0,322.5 198.0,327.0 198.0,331.5 187.0,327.0" fill="#cdbd85"/>
<polygon points="200.0,328.0 213.0,333.5 213.0,337.5 200.0,332.0" fill="#f2f2f2"/>
<ellipse cx="185.5" cy="312.6" rx="4.6" ry="2" fill="#f2f2f2" stroke="#333" stroke-width="0.4"/>
<polygon points="176.0,331.0 182.0,328.5 218.0,343.0 218.0,352.5 205.0,366.0 176.0,354.0" fill="#6a6a6a" stroke="#1e1e1e" stroke-width="0.5" stroke-linejoin="round"/>
<polygon points="176.0,331.0 182.0,328.5 218.0,343.0 212.0,346.0" fill="#7d7d7d"/>
<ellipse cx="182.5" cy="342.5" rx="4.2" ry="4.8" fill="#4a4a4a" stroke="#222" stroke-width="2.3" transform="rotate(-20 182.5 342.5)"/>
<ellipse cx="196.0" cy="348.0" rx="4.2" ry="4.8" fill="#4a4a4a" stroke="#222" stroke-width="2.3" transform="rotate(-20 196.0 348.0)"/>
<ellipse cx="210.0" cy="354.0" rx="4.2" ry="4.8" fill="#4a4a4a" stroke="#222" stroke-width="2.3" transform="rotate(-20 210.0 354.0)"/>
<polygon points="243.5,346.8 259.5,336.0 260.3,337.0 260.3,352.5 254.0,357.0 246.0,353.0" fill="#a6a6a6" stroke="#1e1e1e" stroke-width="0.5" stroke-linejoin="round"/>
<polygon points="250.5,342.3 259.5,336.2 259.8,352.3 254.0,356.5 250.5,354.5" fill="#c2c2c2"/>
<line x1="250.5" y1="342.3" x2="250.5" y2="354.5" stroke="#444" stroke-width="0.7"/>
<polygon points="254.0,353.5 260.5,349.0 261.3,357.5 255.0,360.3" fill="#2a2a2a"/>
<polygon points="262.0,338.0 282.0,327.0 287.0,331.0 285.0,338.0 271.0,346.5 264.0,346.0" fill="#747474" stroke="#1e1e1e" stroke-width="0.5" stroke-linejoin="round"/>
<ellipse cx="266.6" cy="341.3" rx="5" ry="5.8" fill="#9a9a9a" stroke="#2a2a2a" stroke-width="1.2" transform="rotate(-25 266.6 341.3)"/>
<ellipse cx="266.6" cy="341.3" rx="2" ry="2.5" fill="#333" transform="rotate(-25 266.6 341.3)"/>
<polygon points="282.0,327.0 289.0,322.0 290.0,326.0 287.0,331.0" fill="#444"/>
<polygon points="218.0,336.0 232.0,342.0 232.0,355.5 218.0,349.5" fill="#2b2b2b" stroke="#1e1e1e" stroke-width="0.5" stroke-linejoin="round"/>
<polygon points="232.0,342.0 257.0,330.5 257.0,337.0 243.0,346.5 243.0,349.0 232.0,355.5" fill="#3e3e3e" stroke="#1e1e1e" stroke-width="0.5" stroke-linejoin="round"/>
<ellipse cx="239.5" cy="338.5" rx="2.6" ry="4.2" fill="#555" stroke="#bdbdbd" stroke-width="1.1" transform="rotate(25 239.5 338.5)"/>
<ellipse cx="249.5" cy="333.8" rx="2.4" ry="3.8" fill="#555" stroke="#bdbdbd" stroke-width="1.1" transform="rotate(25 249.5 333.8)"/>
<polygon points="209.0,327.5 231.0,336.5 231.0,340.0 209.0,331.0" fill="#1c1c1c"/>
<polygon points="191.5,360.0 197.0,357.5 203.0,360.0 207.0,364.5 206.5,370.5 203.5,376.5 199.0,373.0 193.0,369.0" fill="#5a5a5a" stroke="#1e1e1e" stroke-width="0.8" stroke-linejoin="round"/>
<polygon points="193.4,368.2 198.2,366.0 200.5,373.2 203.6,376.4 198.2,391.6 187.4,385.3" fill="#6f6f6f" stroke="#1e1e1e" stroke-width="0.9" stroke-linejoin="round"/>
<line x1="199.4" y1="374" x2="192.2" y2="388.4" stroke="#2a2a2a" stroke-width="0.8"/>
<ellipse cx="215.5" cy="383.5" rx="9.5" ry="4.2" fill="#b9b9b9" stroke="#555" stroke-width="0.6"/>
<ellipse cx="233" cy="381.5" rx="6.5" ry="4.2" fill="#b9b9b9" stroke="#555" stroke-width="0.6"/>
<polygon points="207.5,370.5 213.0,366.0 229.0,372.5 230.5,377.0 228.0,382.0 212.0,383.0 207.5,379.5" fill="#a9dcd8" stroke="#3f6f6c" stroke-width="0.7" stroke-linejoin="round"/>
<polygon points="214.2,362.6 226.8,356.2 230.0,360.4 229.6,366.2 219.4,371.2" fill="#9c9c9c" stroke="#1e1e1e" stroke-width="0.7" stroke-linejoin="round"/>
<line x1="215.5" y1="364.4" x2="227.6" y2="358.2" stroke="#2e2e2e" stroke-width="1.1"/>
<line x1="216.8" y1="366.5" x2="228.3" y2="360.5" stroke="#2e2e2e" stroke-width="1.1"/>
<line x1="218.0" y1="368.6" x2="229.0" y2="362.8" stroke="#2e2e2e" stroke-width="1.1"/>
<line x1="219.2" y1="370.7" x2="229.7" y2="365.1" stroke="#2e2e2e" stroke-width="1.1"/>
<polygon points="232.5,356.0 243.5,349.0 253.5,355.0 254.6,361.0 253.0,366.5 244.0,373.5 239.5,380.0 231.0,372.0" fill="#6d6d6d" stroke="#1e1e1e" stroke-width="0.6" stroke-linejoin="round"/>
<ellipse cx="236.3" cy="368.3" rx="6.8" ry="8.2" fill="#4a4a4a" stroke="#1e1e1e" stroke-width="0.8" transform="rotate(-28 236.3 368.3)"/>
<ellipse cx="236" cy="368.6" rx="4.6" ry="5.8" fill="#8a8a8a" stroke="#2a2a2a" stroke-width="0.7" transform="rotate(-28 236 368.6)"/>
<ellipse cx="235.8" cy="368.8" rx="2.2" ry="2.9" fill="#3a3a3a" transform="rotate(-28 235.8 368.8)"/>
<polygon points="134.0,363.5 187.0,382.5 187.5,386.0 134.5,367.0" fill="#1c1c1c"/>
<polygon points="133.0,336.5 189.0,356.5 187.0,383.0 134.0,364.0" fill="#858585" stroke="#1e1e1e" stroke-width="0.6" stroke-linejoin="round"/>
<line x1="159.5" y1="346" x2="159.5" y2="373" stroke="#333" stroke-width="0.8"/>
<polygon points="189.0,356.5 193.0,359.0 191.0,378.0 187.0,383.0" fill="#3a3a3a"/>
<ellipse cx="138.7" cy="345.0" rx="5.3" ry="5.6" fill="#171717"/>
<ellipse cx="139.4" cy="344.6" rx="3.1" ry="3.3" fill="#2b2b2b"/>
<path d="M138.1,344.2 q2.6,-1 2.8,2.4" fill="none" stroke="#4a4a4a" stroke-width="0.8"/>
<ellipse cx="151.7" cy="351.0" rx="5.3" ry="5.6" fill="#171717"/>
<ellipse cx="152.4" cy="350.6" rx="3.1" ry="3.3" fill="#2b2b2b"/>
<path d="M151.1,350.2 q2.6,-1 2.8,2.4" fill="none" stroke="#4a4a4a" stroke-width="0.8"/>
<ellipse cx="165.2" cy="356.5" rx="5.3" ry="5.6" fill="#171717"/>
<ellipse cx="165.9" cy="356.1" rx="3.1" ry="3.3" fill="#2b2b2b"/>
<path d="M164.6,355.7 q2.6,-1 2.8,2.4" fill="none" stroke="#4a4a4a" stroke-width="0.8"/>
<ellipse cx="179.0" cy="362.0" rx="5.3" ry="5.6" fill="#171717"/>
<ellipse cx="179.7" cy="361.6" rx="3.1" ry="3.3" fill="#2b2b2b"/>
<path d="M178.4,361.2 q2.6,-1 2.8,2.4" fill="none" stroke="#4a4a4a" stroke-width="0.8"/>
<ellipse cx="138.7" cy="359.0" rx="5.3" ry="5.6" fill="#171717"/>
<ellipse cx="139.4" cy="358.6" rx="3.1" ry="3.3" fill="#2b2b2b"/>
<path d="M138.1,358.2 q2.6,-1 2.8,2.4" fill="none" stroke="#4a4a4a" stroke-width="0.8"/>
<ellipse cx="151.7" cy="365.0" rx="5.3" ry="5.6" fill="#171717"/>
<ellipse cx="152.4" cy="364.6" rx="3.1" ry="3.3" fill="#2b2b2b"/>
<path d="M151.1,364.2 q2.6,-1 2.8,2.4" fill="none" stroke="#4a4a4a" stroke-width="0.8"/>
<ellipse cx="165.2" cy="370.5" rx="5.3" ry="5.6" fill="#171717"/>
<ellipse cx="165.9" cy="370.1" rx="3.1" ry="3.3" fill="#2b2b2b"/>
<path d="M164.6,369.7 q2.6,-1 2.8,2.4" fill="none" stroke="#4a4a4a" stroke-width="0.8"/>
<ellipse cx="179.0" cy="376.0" rx="5.3" ry="5.6" fill="#171717"/>
<ellipse cx="179.7" cy="375.6" rx="3.1" ry="3.3" fill="#2b2b2b"/>
<path d="M178.4,375.2 q2.6,-1 2.8,2.4" fill="none" stroke="#4a4a4a" stroke-width="0.8"/>
<ellipse cx="160.5" cy="340" rx="4" ry="2" fill="#f5f5f5"/>
<ellipse cx="172.5" cy="345" rx="4" ry="2" fill="#f5f5f5"/>
<polygon points="132.5,285.0 162.0,297.0 162.0,313.5 132.5,301.5" fill="#565656" stroke="#1e1e1e" stroke-width="0.5" stroke-linejoin="round"/>
<ellipse cx="140.7" cy="298.0" rx="3.9" ry="4.6" fill="#4a4a4a" stroke="#242424" stroke-width="2.3" transform="rotate(-20 140.7 298.0)"/>
<ellipse cx="154.3" cy="303.3" rx="3.9" ry="4.6" fill="#4a4a4a" stroke="#242424" stroke-width="2.3" transform="rotate(-20 154.3 303.3)"/>
<polygon points="128.2,264.5 133.0,264.0 133.0,290.5 129.2,288.0" fill="#a9dcd8" stroke="#2f4f4d" stroke-width="0.6" stroke-linejoin="round"/>
<polygon points="133.0,264.0 170.0,243.6 173.6,246.0 173.6,253.0 138.0,273.0 137.5,292.0 133.0,290.5" fill="#515151" stroke="#1e1e1e" stroke-width="0.7" stroke-linejoin="round"/>
<polygon points="137.8,273.2 173.4,253.0 173.4,259.0 147.0,273.0 147.0,283.0 137.8,279.0" fill="#707070"/>
<polygon points="133.2,273.5 170.4,246.2 171.8,247.2 134.6,275.0" fill="#8d8d8d"/>
<polygon points="167.6,247.4 173.6,246.0 173.6,253.2 167.6,256.4" fill="#7a7a7a" stroke="#1e1e1e" stroke-width="0.5" stroke-linejoin="round"/>
<polygon points="152.7,247.6 166.0,242.3 169.4,244.0 158.4,250.6" fill="#a9dcd8" stroke="#2f4f4d" stroke-width="0.6" stroke-linejoin="round"/>
<polygon points="129.5,264.0 137.0,263.6 139.8,266.2 133.0,272.0 133.0,264.5" fill="#c5e6e3" stroke="#2f4f4d" stroke-width="0.4" stroke-linejoin="round"/>
<polygon points="133.0,264.2 152.9,247.9 158.0,250.8 139.5,267.0" fill="#d9efed"/>
<polygon points="129.2,250.3 152.9,248.1 135.0,263.6 129.6,264.0" fill="#df0a14" stroke="#5a0a0e" stroke-width="0.5" stroke-linejoin="round"/>
<polygon points="129.2,250.3 133.5,263.0 129.6,264.0" fill="#a90a10"/>
<polygon points="137.3,263.9 156.7,250.1 158.5,252.5 139.1,266.3" fill="#303030"/>
<line x1="147" y1="257.5" x2="149.5" y2="260" stroke="#999" stroke-width="0.7"/>
<polygon points="176.0,304.4 218.5,322.5 218.5,325.3 176.0,307.2" fill="#262626"/>
<polygon points="133.0,281.5 172.0,251.2 256.0,285.7 256.0,290.0 218.5,322.5 133.0,286.0" fill="#5f5f5f" stroke="#1e1e1e" stroke-width="0.6" stroke-linejoin="round"/>
<polygon points="218.5,318.5 256.0,286.0 256.0,290.0 218.5,322.5" fill="#7c7c7c" stroke="#1e1e1e" stroke-width="0.4" stroke-linejoin="round"/>
<polygon points="133.0,281.5 172.0,251.2 256.0,285.7 218.5,318.5" fill="#686868" stroke="#1e1e1e" stroke-width="0.5" stroke-linejoin="round"/>
<polygon points="147.5,287.5 157.0,279.5 171.0,285.5 161.5,293.5" fill="#8f8f8f" stroke="#1e1e1e" stroke-width="0.4" stroke-linejoin="round"/>
<polygon points="147.5,287.5 161.5,293.5 161.5,298.0 147.5,292.0" fill="#b4b4b4" stroke="#1e1e1e" stroke-width="0.4" stroke-linejoin="round"/>
<path d="M140.7,281.2 v2.8 a4.9,3.0 0 0 0 9.8,0 v-2.8 z" fill="#1c1c1c" stroke="#1e1e1e" stroke-width="0.7"/>
<ellipse cx="145.6" cy="281.2" rx="4.9" ry="3.0" fill="#686868" stroke="#1e1e1e" stroke-width="0.5"/>
<path d="M154.4,287.0 v2.8 a4.9,3.0 0 0 0 9.8,0 v-2.8 z" fill="#1c1c1c" stroke="#1e1e1e" stroke-width="0.7"/>
<ellipse cx="159.3" cy="287.0" rx="4.9" ry="3.0" fill="#8a8a8a" stroke="#1e1e1e" stroke-width="0.5"/>
<path d="M167.8,292.2 v2.8 a4.9,3.0 0 0 0 9.8,0 v-2.8 z" fill="#1c1c1c" stroke="#1e1e1e" stroke-width="0.7"/>
<ellipse cx="172.7" cy="292.2" rx="4.9" ry="3.0" fill="#686868" stroke="#1e1e1e" stroke-width="0.5"/>
<path d="M188.5,275.8 v2.8 a4.9,3.0 0 0 0 9.8,0 v-2.8 z" fill="#1c1c1c" stroke="#1e1e1e" stroke-width="0.7"/>
<ellipse cx="193.4" cy="275.8" rx="4.9" ry="3.0" fill="#686868" stroke="#1e1e1e" stroke-width="0.5"/>
<path d="M178.5,283.8 v2.8 a4.9,3.0 0 0 0 9.8,0 v-2.8 z" fill="#1c1c1c" stroke="#1e1e1e" stroke-width="0.7"/>
<ellipse cx="183.4" cy="283.8" rx="4.9" ry="3.0" fill="#686868" stroke="#1e1e1e" stroke-width="0.5"/>
<path d="M172.1,256.0 v2.8 a4.9,3.0 0 0 0 9.8,0 v-2.8 z" fill="#1c1c1c" stroke="#1e1e1e" stroke-width="0.7"/>
<ellipse cx="177.0" cy="256.0" rx="4.9" ry="3.0" fill="#686868" stroke="#1e1e1e" stroke-width="0.5"/>
<path d="M184.5,262.3 v2.8 a4.9,3.0 0 0 0 9.8,0 v-2.8 z" fill="#1c1c1c" stroke="#1e1e1e" stroke-width="0.7"/>
<ellipse cx="189.4" cy="262.3" rx="4.9" ry="3.0" fill="#8a8a8a" stroke="#1e1e1e" stroke-width="0.5"/>
<path d="M196.9,268.3 v2.8 a4.9,3.0 0 0 0 9.8,0 v-2.8 z" fill="#1c1c1c" stroke="#1e1e1e" stroke-width="0.7"/>
<ellipse cx="201.8" cy="268.3" rx="4.9" ry="3.0" fill="#686868" stroke="#1e1e1e" stroke-width="0.5"/>
<path d="M194.9,303.0 v2.8 a4.9,3.0 0 0 0 9.8,0 v-2.8 z" fill="#1c1c1c" stroke="#1e1e1e" stroke-width="0.7"/>
<ellipse cx="199.8" cy="303.0" rx="4.9" ry="3.0" fill="#686868" stroke="#1e1e1e" stroke-width="0.5"/>
<path d="M210.3,308.6 v2.8 a4.9,3.0 0 0 0 9.8,0 v-2.8 z" fill="#1c1c1c" stroke="#1e1e1e" stroke-width="0.7"/>
<ellipse cx="215.2" cy="308.6" rx="4.9" ry="3.0" fill="#686868" stroke="#1e1e1e" stroke-width="0.5"/>
<path d="M225.9,279.8 v2.8 a4.9,3.0 0 0 0 9.8,0 v-2.8 z" fill="#1c1c1c" stroke="#1e1e1e" stroke-width="0.7"/>
<ellipse cx="230.8" cy="279.8" rx="4.9" ry="3.0" fill="#686868" stroke="#1e1e1e" stroke-width="0.5"/>
<path d="M239.5,285.0 v2.8 a4.9,3.0 0 0 0 9.8,0 v-2.8 z" fill="#1c1c1c" stroke="#1e1e1e" stroke-width="0.7"/>
<ellipse cx="244.4" cy="285.0" rx="4.9" ry="3.0" fill="#686868" stroke="#1e1e1e" stroke-width="0.5"/>
<polygon points="172.5,247.0 229.0,268.0 229.0,275.5 222.0,278.0 206.0,276.0 190.0,268.5 179.0,260.5 172.5,255.0" fill="#df0a14" stroke="#5a0508" stroke-width="0.5" stroke-linejoin="round"/>
<polygon points="172.5,247.0 229.0,268.0 229.0,271.0 172.5,250.0" fill="#b8080f"/>
<polygon points="179.0,260.5 187.0,254.0 214.0,264.5 206.0,271.5" fill="#e20b15" stroke="#5a0508" stroke-width="0.4" stroke-linejoin="round"/>
<path d="M183.1,256.6 v2.6 a4.9,3.0 0 0 0 9.8,0 v-2.6 z" fill="#3a0508" stroke="#3a0508" stroke-width="0.7"/>
<ellipse cx="188.0" cy="256.6" rx="4.9" ry="3.0" fill="#df0a14" stroke="#3a0508" stroke-width="0.5"/>
<path d="M196.6,261.6 v2.6 a4.9,3.0 0 0 0 9.8,0 v-2.6 z" fill="#3a0508" stroke="#3a0508" stroke-width="0.7"/>
<ellipse cx="201.5" cy="261.6" rx="4.9" ry="3.0" fill="#df0a14" stroke="#3a0508" stroke-width="0.5"/>
<path d="M171.7,256.4 v2.8 a4.9,3.0 0 0 0 9.8,0 v-2.8 z" fill="#1c1c1c" stroke="#1e1e1e" stroke-width="0.7"/>
<ellipse cx="176.6" cy="256.4" rx="4.9" ry="3.0" fill="#686868" stroke="#1e1e1e" stroke-width="0.5"/>
<polygon points="144.2,272.7 164.5,257.5 190.8,267.8 171.8,281.8" fill="#f5f5f5" stroke="#1e1e1e" stroke-width="0.6" stroke-linejoin="round"/>
<polygon points="144.2,272.7 171.8,281.8 171.8,286.2 144.2,277.0" fill="#cfcfcf" stroke="#1e1e1e" stroke-width="0.5" stroke-linejoin="round"/>
<polygon points="171.8,281.8 190.8,267.8 190.8,272.0 171.8,286.2" fill="#e6e6e6" stroke="#1e1e1e" stroke-width="0.5" stroke-linejoin="round"/>
<path d="M158,277.2 L177.6,262.6 M154.3,265 L181.3,274.8" stroke="#777" stroke-width="0.5" fill="none"/>
<path d="M165.1,271.6 v2.8 a4.9,3.0 0 0 0 9.8,0 v-2.8 z" fill="#1a1a1a" stroke="#1e1e1e" stroke-width="0.7"/>
<ellipse cx="170.0" cy="271.6" rx="4.9" ry="3.0" fill="#f5f5f5" stroke="#1e1e1e" stroke-width="0.5"/>
<path d="M174.6,264.2 v2.8 a4.9,3.0 0 0 0 9.8,0 v-2.8 z" fill="#1a1a1a" stroke="#1e1e1e" stroke-width="0.7"/>
<ellipse cx="179.5" cy="264.2" rx="4.9" ry="3.0" fill="#f5f5f5" stroke="#1e1e1e" stroke-width="0.5"/>
<path d="M149.6,270.5 C148.4,264.5 150.4,260.5 153.4,260.0 C155.4,262.0 156.0,265.0 155.6,268.2 L157.0,268.8 C156.6,264.5 158.0,261.5 160.6,261.8 C162.6,264.2 162.8,268.5 162.2,272.5 L155.5,275.5 Z" fill="#fbfbfb" stroke="#4a4a4a" stroke-width="0.6"/>
<path d="M151.6,268.6 c-1.4,-3 -0.8,-6 1,-7.6 c1,2.4 1.2,5 0.8,8.4 z" fill="#bdbdbd"/>
<path d="M158.8,270.6 c-1.4,-3 -0.8,-6 1,-7.6 c1,2.4 1.2,5 0.8,8.4 z" fill="#bdbdbd"/>
<path d="M159.9,262.2 C158.7,256.2 160.7,252.2 163.7,251.7 C165.7,253.7 166.3,256.7 165.9,259.9 L167.3,260.5 C166.9,256.2 168.3,253.2 170.9,253.5 C172.9,255.9 173.1,260.2 172.5,264.2 L165.8,267.2 Z" fill="#fbfbfb" stroke="#4a4a4a" stroke-width="0.6"/>
<path d="M161.9,260.3 c-1.4,-3 -0.8,-6 1,-7.6 c1,2.4 1.2,5 0.8,8.4 z" fill="#bdbdbd"/>
<path d="M169.1,262.3 c-1.4,-3 -0.8,-6 1,-7.6 c1,2.4 1.2,5 0.8,8.4 z" fill="#bdbdbd"/>
<polygon points="147.0,285.0 157.0,277.5 183.0,288.0 188.0,301.5 160.0,291.0" fill="#e20b15" stroke="#5a0508" stroke-width="0.4" stroke-linejoin="round"/>
<path d="M153.6,281.0 v2.4 a4.9,3.0 0 0 0 9.8,0 v-2.4 z" fill="#3a0508" stroke="#3a0508" stroke-width="0.7"/>
<ellipse cx="158.5" cy="281.0" rx="4.9" ry="3.0" fill="#df0a14" stroke="#3a0508" stroke-width="0.5"/>
<path d="M167.6,286.5 v2.4 a4.9,3.0 0 0 0 9.8,0 v-2.4 z" fill="#3a0508" stroke="#3a0508" stroke-width="0.7"/>
<ellipse cx="172.5" cy="286.5" rx="4.9" ry="3.0" fill="#df0a14" stroke="#3a0508" stroke-width="0.5"/>
<polygon points="131.5,280.5 188.0,301.5 188.0,329.0 131.5,309.0" fill="#dc0a14" stroke="#4a0508" stroke-width="0.7" stroke-linejoin="round"/>
<line x1="131.5" y1="281.6" x2="188" y2="302.6" stroke="#f0444a" stroke-width="0.8"/>
<ellipse cx="136.7" cy="290.5" rx="4.8" ry="5.2" fill="#2a0305"/>
<ellipse cx="137.2" cy="290.2" rx="2.8" ry="3.1" fill="#7a060c"/>
<path d="M135.9,289.9 q2.5,-1 2.5,2.5" fill="none" stroke="#3d0508" stroke-width="0.9"/>
<ellipse cx="150.7" cy="296.1" rx="4.8" ry="5.2" fill="#2a0305"/>
<ellipse cx="151.2" cy="295.8" rx="2.8" ry="3.1" fill="#7a060c"/>
<path d="M149.9,295.5 q2.5,-1 2.5,2.5" fill="none" stroke="#3d0508" stroke-width="0.9"/>
<ellipse cx="164.7" cy="301.7" rx="4.8" ry="5.2" fill="#2a0305"/>
<ellipse cx="165.2" cy="301.4" rx="2.8" ry="3.1" fill="#7a060c"/>
<path d="M163.9,301.1 q2.5,-1 2.5,2.5" fill="none" stroke="#3d0508" stroke-width="0.9"/>
<ellipse cx="178.7" cy="307.3" rx="4.8" ry="5.2" fill="#2a0305"/>
<ellipse cx="179.2" cy="307.0" rx="2.8" ry="3.1" fill="#7a060c"/>
<path d="M177.9,306.7 q2.5,-1 2.5,2.5" fill="none" stroke="#3d0508" stroke-width="0.9"/>
<ellipse cx="136.7" cy="304.5" rx="4.8" ry="5.2" fill="#2a0305"/>
<ellipse cx="137.2" cy="304.2" rx="2.8" ry="3.1" fill="#7a060c"/>
<path d="M135.9,303.9 q2.5,-1 2.5,2.5" fill="none" stroke="#3d0508" stroke-width="0.9"/>
<ellipse cx="150.7" cy="310.1" rx="4.8" ry="5.2" fill="#2a0305"/>
<ellipse cx="151.2" cy="309.8" rx="2.8" ry="3.1" fill="#7a060c"/>
<path d="M149.9,309.5 q2.5,-1 2.5,2.5" fill="none" stroke="#3d0508" stroke-width="0.9"/>
<ellipse cx="164.7" cy="315.7" rx="4.8" ry="5.2" fill="#2a0305"/>
<ellipse cx="165.2" cy="315.4" rx="2.8" ry="3.1" fill="#7a060c"/>
<path d="M163.9,315.1 q2.5,-1 2.5,2.5" fill="none" stroke="#3d0508" stroke-width="0.9"/>
<ellipse cx="178.7" cy="321.3" rx="4.8" ry="5.2" fill="#2a0305"/>
<ellipse cx="179.2" cy="321.0" rx="2.8" ry="3.1" fill="#7a060c"/>
<path d="M177.9,320.7 q2.5,-1 2.5,2.5" fill="none" stroke="#3d0508" stroke-width="0.9"/>
<path d="M178.8,294.6 v5.6 a8.4,4.6 0 0 0 16.8,0 v-5.6 z" fill="#a0a0a0" stroke="#3c3c3c" stroke-width="0.7"/>
<ellipse cx="187.2" cy="294.6" rx="8.4" ry="4.6" fill="#b8b8b8" stroke="#3c3c3c" stroke-width="0.5"/>
<path d="M184.0,289.0 v5.0 a3.3,1.8 0 0 0 6.6,0 v-5.0 z" fill="#adadad" stroke="#3c3c3c" stroke-width="0.7"/>
<ellipse cx="187.3" cy="289.0" rx="3.3" ry="1.8" fill="#c8c8c8" stroke="#3c3c3c" stroke-width="0.5"/>
<path d="M208.1,270.2 v5.6 a8.4,4.6 0 0 0 16.8,0 v-5.6 z" fill="#a0a0a0" stroke="#3c3c3c" stroke-width="0.7"/>
<ellipse cx="216.5" cy="270.2" rx="8.4" ry="4.6" fill="#b8b8b8" stroke="#3c3c3c" stroke-width="0.5"/>
<path d="M213.3,264.6 v5.0 a3.3,1.8 0 0 0 6.6,0 v-5.0 z" fill="#adadad" stroke="#3c3c3c" stroke-width="0.7"/>
<ellipse cx="216.6" cy="264.6" rx="3.3" ry="1.8" fill="#c8c8c8" stroke="#3c3c3c" stroke-width="0.5"/>
<polygon points="195.8,290.0 203.6,284.4 212.7,286.6 227.0,291.5 217.0,302.0 208.0,303.5 197.0,297.5" fill="#f8b336" stroke="#2e1c04" stroke-width="0.7" stroke-linejoin="round"/>
<path d="M202.4,287.3 v2.6 a4.6,2.8 0 0 0 9.2,0 v-2.6 z" fill="#1e1203" stroke="#1e1203" stroke-width="0.7"/>
<ellipse cx="207.0" cy="287.3" rx="4.6" ry="2.8" fill="#f8b336" stroke="#1e1203" stroke-width="0.5"/>
<path d="M215.6,292.0 v2.6 a4.6,2.8 0 0 0 9.2,0 v-2.6 z" fill="#1e1203" stroke="#1e1203" stroke-width="0.7"/>
<ellipse cx="220.2" cy="292.0" rx="4.6" ry="2.8" fill="#f8b336" stroke="#1e1203" stroke-width="0.5"/>
<path d="M195.2,294.0 v2.6 a4.2,2.6 0 0 0 8.4,0 v-2.6 z" fill="#1e1203" stroke="#1e1203" stroke-width="0.7"/>
<ellipse cx="199.4" cy="294.0" rx="4.2" ry="2.6" fill="#f8b336" stroke="#1e1203" stroke-width="0.5"/>
<path d="M207.2,298.5 v2.6 a4.2,2.6 0 0 0 8.4,0 v-2.6 z" fill="#1e1203" stroke="#1e1203" stroke-width="0.7"/>
<ellipse cx="211.4" cy="298.5" rx="4.2" ry="2.6" fill="#f8b336" stroke="#1e1203" stroke-width="0.5"/>
<polygon points="214.6,301.5 232.6,285.0 246.4,291.2 227.6,307.2" fill="#f9b93f" stroke="#2e1c04" stroke-width="0.8" stroke-linejoin="round"/>
<polygon points="214.6,301.5 227.6,307.2 227.6,311.2 214.6,305.5" fill="#d48f22" stroke="#2e1c04" stroke-width="0.6" stroke-linejoin="round"/>
<polygon points="227.6,307.2 246.4,291.2 246.4,295.2 227.6,311.2" fill="#e09a28" stroke="#2e1c04" stroke-width="0.6" stroke-linejoin="round"/>
<polygon points="220.4,297.4 223.2,294.9 229.6,297.6 226.8,300.1" fill="#f3a92c" stroke="#2e1c04" stroke-width="0.8" stroke-linejoin="round"/>
<polygon points="230.8,289.0 233.6,286.5 240.0,289.2 237.2,291.7" fill="#f3a92c" stroke="#2e1c04" stroke-width="0.8" stroke-linejoin="round"/>
<polygon points="249.0,297.5 256.0,292.5 270.5,298.0 270.5,302.0 262.0,308.0 249.0,301.0" fill="#a90a10" stroke="#5a0508" stroke-width="0.5" stroke-linejoin="round"/>
<polygon points="249.0,297.5 256.0,292.5 270.5,298.0 262.0,304.0" fill="#df0a14" stroke="#5a0508" stroke-width="0.4" stroke-linejoin="round"/>
<polygon points="250.5,296.0 255.5,292.5 269.0,297.5 264.0,301.5" fill="#df0a14" stroke="#4a0508" stroke-width="0.5" stroke-linejoin="round"/>
<path d="M253.3,296.9 C252.5,291.9 253.7,287.5 256.1,287.5 C258.7,287.5 259.1,292.9 258.5,297.5 Z" fill="#c9080f" stroke="#4a0508" stroke-width="0.6"/>
<path d="M260.3,299.1 C259.5,294.1 260.7,289.7 263.1,289.7 C265.7,289.7 266.1,295.1 265.5,299.7 Z" fill="#e8242c" stroke="#4a0508" stroke-width="0.6"/>
<polygon points="231.0,313.5 248.5,300.0 288.5,316.3 288.5,321.0 269.5,336.3 242.0,326.5 231.0,318.0" fill="#d48f22" stroke="#2e1c04" stroke-width="0.6" stroke-linejoin="round"/>
<polygon points="231.0,313.5 248.5,300.0 288.5,316.3 269.5,331.3" fill="#f8b336" stroke="#2e1c04" stroke-width="0.5" stroke-linejoin="round"/>
<polygon points="269.5,331.3 288.5,316.3 288.5,321.0 269.5,336.3" fill="#f2a62e" stroke="#2e1c04" stroke-width="0.5" stroke-linejoin="round"/>
<path d="M244.1,304.0 v2.9 a4.9,3.0 0 0 0 9.8,0 v-2.9 z" fill="#1e1203" stroke="#1e1203" stroke-width="0.7"/>
<ellipse cx="249.0" cy="304.0" rx="4.9" ry="3.0" fill="#f9b132" stroke="#1e1203" stroke-width="0.5"/>
<path d="M258.1,309.0 v2.9 a4.9,3.0 0 0 0 9.8,0 v-2.9 z" fill="#1e1203" stroke="#1e1203" stroke-width="0.7"/>
<ellipse cx="263.0" cy="309.0" rx="4.9" ry="3.0" fill="#f9b132" stroke="#1e1203" stroke-width="0.5"/>
<path d="M272.1,314.2 v2.9 a4.9,3.0 0 0 0 9.8,0 v-2.9 z" fill="#1e1203" stroke="#1e1203" stroke-width="0.7"/>
<ellipse cx="277.0" cy="314.2" rx="4.9" ry="3.0" fill="#f9b132" stroke="#1e1203" stroke-width="0.5"/>
<path d="M234.6,311.0 v2.9 a4.9,3.0 0 0 0 9.8,0 v-2.9 z" fill="#1e1203" stroke="#1e1203" stroke-width="0.7"/>
<ellipse cx="239.5" cy="311.0" rx="4.9" ry="3.0" fill="#f9b132" stroke="#1e1203" stroke-width="0.5"/>
<path d="M248.6,316.3 v2.9 a4.9,3.0 0 0 0 9.8,0 v-2.9 z" fill="#1e1203" stroke="#1e1203" stroke-width="0.7"/>
<ellipse cx="253.5" cy="316.3" rx="4.9" ry="3.0" fill="#f9b132" stroke="#1e1203" stroke-width="0.5"/>
<path d="M262.4,321.6 v2.9 a4.9,3.0 0 0 0 9.8,0 v-2.9 z" fill="#1e1203" stroke="#1e1203" stroke-width="0.7"/>
<ellipse cx="267.3" cy="321.6" rx="4.9" ry="3.0" fill="#f9b132" stroke="#1e1203" stroke-width="0.5"/>
<polygon points="210.5,325.0 222.5,319.0 241.0,326.5 241.0,330.0 231.0,337.0 210.5,328.5" fill="#a90a10" stroke="#5a0508" stroke-width="0.5" stroke-linejoin="round"/>
<polygon points="231.0,333.5 241.0,326.5 241.0,330.0 231.0,337.0" fill="#c3080f"/>
<polygon points="210.5,325.0 222.5,319.0 241.0,326.5 231.0,333.5" fill="#df0a14" stroke="#5a0508" stroke-width="0.4" stroke-linejoin="round"/>
<polygon points="221.2,320.1 226.2,316.6 239.7,321.6 234.7,325.6" fill="#df0a14" stroke="#4a0508" stroke-width="0.5" stroke-linejoin="round"/>
<path d="M224.0,321.0 C223.2,316.0 224.4,311.6 226.8,311.6 C229.4,311.6 229.8,317.0 229.2,321.6 Z" fill="#c9080f" stroke="#4a0508" stroke-width="0.6"/>
<path d="M231.0,323.2 C230.2,318.2 231.4,313.8 233.8,313.8 C236.4,313.8 236.8,319.2 236.2,323.8 Z" fill="#e8242c" stroke="#4a0508" stroke-width="0.6"/>
</g>
<g transform="translate(349.8,138.0)">
<polygon points="107.3,283.0 110.5,277.3 118.0,272.4 123.5,273.3 128.5,276.0 133.0,280.0 133.0,302.0 129.5,299.5 128.5,293.5 121.5,291.0 116.5,286.6 110.5,284.6" fill="#707070" stroke="#1e1e1e" stroke-width="0.9" stroke-linejoin="round"/>
<polygon points="116.5,286.6 121.5,291.0 128.5,293.5 129.5,299.5 133.0,302.0 133.0,294.0 126.0,290.0 120.0,286.0" fill="#5e5e5e"/>
<ellipse cx="115.8" cy="289.2" rx="4.9" ry="6.2" fill="#6a6a6a" stroke="#262626" stroke-width="0.8" transform="rotate(-25 115.8 289.2)"/>
<ellipse cx="115.8" cy="289.2" rx="3.8" ry="5.1" fill="#3a3a3a" stroke="#c4c4c4" stroke-width="1.3" transform="rotate(-25 115.8 289.2)"/>
<ellipse cx="128.8" cy="296.2" rx="4.9" ry="6.2" fill="#6a6a6a" stroke="#262626" stroke-width="0.8" transform="rotate(-25 128.8 296.2)"/>
<ellipse cx="128.8" cy="296.2" rx="3.8" ry="5.1" fill="#3a3a3a" stroke="#c4c4c4" stroke-width="1.3" transform="rotate(-25 128.8 296.2)"/>
<line x1="102.9" y1="294.4" x2="116.0" y2="288.4" stroke="#1f1f1f" stroke-width="7.6" stroke-linecap="butt"/>
<line x1="102.9" y1="294.4" x2="116.0" y2="288.4" stroke="#3b3b3b" stroke-width="6.2" stroke-linecap="butt"/>
<line x1="102.9" y1="294.4" x2="106.3" y2="292.8" stroke="#8f8f8f" stroke-width="6.2"/>
<ellipse cx="102.9" cy="294.4" rx="2.7" ry="3.6" fill="#a8a8a8" stroke="#2a2a2a" stroke-width="0.8" transform="rotate(-25 102.9 294.4)"/>
<ellipse cx="102.9" cy="294.4" rx="1.2" ry="1.7" fill="#2a2a2a" transform="rotate(-25 102.9 294.4)"/>
<line x1="108.1" y1="288.8" x2="110.3" y2="295.0" stroke="#b5b5b5" stroke-width="1.2"/>
<line x1="116.4" y1="301.0" x2="129.4" y2="294.8" stroke="#1f1f1f" stroke-width="7.6" stroke-linecap="butt"/>
<line x1="116.4" y1="301.0" x2="129.4" y2="294.8" stroke="#3b3b3b" stroke-width="6.2" stroke-linecap="butt"/>
<line x1="116.4" y1="301.0" x2="119.8" y2="299.4" stroke="#8f8f8f" stroke-width="6.2"/>
<ellipse cx="116.4" cy="301.0" rx="2.7" ry="3.6" fill="#a8a8a8" stroke="#2a2a2a" stroke-width="0.8" transform="rotate(-25 116.4 301.0)"/>
<ellipse cx="116.4" cy="301.0" rx="1.2" ry="1.7" fill="#2a2a2a" transform="rotate(-25 116.4 301.0)"/>
<line x1="121.6" y1="295.4" x2="123.8" y2="301.6" stroke="#b5b5b5" stroke-width="1.2"/>
<polygon points="105.0,337.0 141.0,308.5 143.0,304.0 162.0,311.0 162.0,350.0 134.0,341.0 120.0,341.0 106.0,339.5" fill="#2b2b2b" stroke="#1e1e1e" stroke-width="0.6" stroke-linejoin="round"/>
<polygon points="122.0,330.5 145.0,312.0 158.0,318.0 149.0,339.0 133.0,334.5" fill="#333" stroke="#8c8c8c" stroke-width="0.7" stroke-linejoin="round"/>
<polygon points="118.0,340.0 134.5,340.0 134.5,351.0 127.0,345.5" fill="#1c1c1c"/>
<ellipse cx="123.2" cy="346.5" rx="5.2" ry="5.6" fill="#8a8a8a" stroke="#333" stroke-width="1"/>
<path d="M120,345 l6.5,3 M124.5,343 l-2.5,7" stroke="#444" stroke-width="1.2"/>
<polygon points="105.0,337.0 122.0,339.0 134.0,338.0 134.0,345.0 128.0,341.5 118.0,340.5 106.0,339.5" fill="#1c1c1c"/>
<polygon points="160.0,296.0 176.0,302.0 218.0,318.0 256.0,290.0 260.0,305.0 284.0,321.0 289.5,325.0 285.5,336.0 273.0,346.8 263.0,345.8 260.5,343.0 260.3,352.0 261.3,357.5 254.8,360.5 253.0,366.5 244.0,373.5 239.5,380.0 233.0,385.5 215.0,387.5 206.0,380.0 198.0,392.0 186.0,385.0 176.0,378.0 160.0,345.0" fill="#3a3a3a" stroke="#1e1e1e" stroke-width="0.6" stroke-linejoin="round"/>
<polygon points="176.0,304.0 218.0,322.0 218.0,336.0 176.0,319.0" fill="#4c4c4c"/>
<polygon points="176.0,310.0 184.0,313.5 184.0,345.0 176.0,342.0" fill="#5e5e5e"/>
<polygon points="161.5,296.5 176.0,302.5 176.0,348.0 161.5,342.0" fill="#5c5c5c" stroke="#1e1e1e" stroke-width="0.5" stroke-linejoin="round"/>
<ellipse cx="168.8" cy="309.5" rx="4.6" ry="5.4" fill="#5a5a5a" stroke="#222" stroke-width="2.3" transform="rotate(-20 168.8 309.5)"/>
<ellipse cx="168.8" cy="323.5" rx="4.6" ry="5.4" fill="#5a5a5a" stroke="#222" stroke-width="2.3" transform="rotate(-20 168.8 323.5)"/>
<ellipse cx="168.8" cy="336.5" rx="4.6" ry="5.4" fill="#5a5a5a" stroke="#222" stroke-width="2.3" transform="rotate(-20 168.8 336.5)"/>
<line x1="161.5" y1="314" x2="161.5" y2="338" stroke="#cdbb7a" stroke-width="1.4"/>
<polygon points="176.0,319.0 218.0,336.0 218.0,341.0 176.0,324.0" fill="#262626"/>
<polygon points="187.0,322.5 198.0,327.0 198.0,331.5 187.0,327.0" fill="#cdbd85"/>
<polygon points="200.0,328.0 213.0,333.5 213.0,337.5 200.0,332.0" fill="#f2f2f2"/>
<ellipse cx="185.5" cy="312.6" rx="4.6" ry="2" fill="#f2f2f2" stroke="#333" stroke-width="0.4"/>
<polygon points="176.0,331.0 182.0,328.5 218.0,343.0 218.0,352.5 205.0,366.0 176.0,354.0" fill="#6a6a6a" stroke="#1e1e1e" stroke-width="0.5" stroke-linejoin="round"/>
<polygon points="176.0,331.0 182.0,328.5 218.0,343.0 212.0,346.0" fill="#7d7d7d"/>
<ellipse cx="182.5" cy="342.5" rx="4.2" ry="4.8" fill="#4a4a4a" stroke="#222" stroke-width="2.3" transform="rotate(-20 182.5 342.5)"/>
<ellipse cx="196.0" cy="348.0" rx="4.2" ry="4.8" fill="#4a4a4a" stroke="#222" stroke-width="2.3" transform="rotate(-20 196.0 348.0)"/>
<ellipse cx="210.0" cy="354.0" rx="4.2" ry="4.8" fill="#4a4a4a" stroke="#222" stroke-width="2.3" transform="rotate(-20 210.0 354.0)"/>
<polygon points="243.5,346.8 259.5,336.0 260.3,337.0 260.3,352.5 254.0,357.0 246.0,353.0" fill="#a6a6a6" stroke="#1e1e1e" stroke-width="0.5" stroke-linejoin="round"/>
<polygon points="250.5,342.3 259.5,336.2 259.8,352.3 254.0,356.5 250.5,354.5" fill="#c2c2c2"/>
<line x1="250.5" y1="342.3" x2="250.5" y2="354.5" stroke="#444" stroke-width="0.7"/>
<polygon points="254.0,353.5 260.5,349.0 261.3,357.5 255.0,360.3" fill="#2a2a2a"/>
<polygon points="262.0,338.0 282.0,327.0 287.0,331.0 285.0,338.0 271.0,346.5 264.0,346.0" fill="#747474" stroke="#1e1e1e" stroke-width="0.5" stroke-linejoin="round"/>
<ellipse cx="266.6" cy="341.3" rx="5" ry="5.8" fill="#9a9a9a" stroke="#2a2a2a" stroke-width="1.2" transform="rotate(-25 266.6 341.3)"/>
<ellipse cx="266.6" cy="341.3" rx="2" ry="2.5" fill="#333" transform="rotate(-25 266.6 341.3)"/>
<polygon points="282.0,327.0 289.0,322.0 290.0,326.0 287.0,331.0" fill="#444"/>
<polygon points="218.0,336.0 232.0,342.0 232.0,355.5 218.0,349.5" fill="#2b2b2b" stroke="#1e1e1e" stroke-width="0.5" stroke-linejoin="round"/>
<polygon points="232.0,342.0 257.0,330.5 257.0,337.0 243.0,346.5 243.0,349.0 232.0,355.5" fill="#3e3e3e" stroke="#1e1e1e" stroke-width="0.5" stroke-linejoin="round"/>
<ellipse cx="239.5" cy="338.5" rx="2.6" ry="4.2" fill="#555" stroke="#bdbdbd" stroke-width="1.1" transform="rotate(25 239.5 338.5)"/>
<ellipse cx="249.5" cy="333.8" rx="2.4" ry="3.8" fill="#555" stroke="#bdbdbd" stroke-width="1.1" transform="rotate(25 249.5 333.8)"/>
<polygon points="209.0,327.5 231.0,336.5 231.0,340.0 209.0,331.0" fill="#1c1c1c"/>
<polygon points="191.5,360.0 197.0,357.5 203.0,360.0 207.0,364.5 206.5,370.5 203.5,376.5 199.0,373.0 193.0,369.0" fill="#5a5a5a" stroke="#1e1e1e" stroke-width="0.8" stroke-linejoin="round"/>
<polygon points="193.4,368.2 198.2,366.0 200.5,373.2 203.6,376.4 198.2,391.6 187.4,385.3" fill="#6f6f6f" stroke="#1e1e1e" stroke-width="0.9" stroke-linejoin="round"/>
<line x1="199.4" y1="374" x2="192.2" y2="388.4" stroke="#2a2a2a" stroke-width="0.8"/>
<ellipse cx="215.5" cy="383.5" rx="9.5" ry="4.2" fill="#b9b9b9" stroke="#555" stroke-width="0.6"/>
<ellipse cx="233" cy="381.5" rx="6.5" ry="4.2" fill="#b9b9b9" stroke="#555" stroke-width="0.6"/>
<polygon points="207.5,370.5 213.0,366.0 229.0,372.5 230.5,377.0 228.0,382.0 212.0,383.0 207.5,379.5" fill="#a9dcd8" stroke="#3f6f6c" stroke-width="0.7" stroke-linejoin="round"/>
<polygon points="214.2,362.6 226.8,356.2 230.0,360.4 229.6,366.2 219.4,371.2" fill="#9c9c9c" stroke="#1e1e1e" stroke-width="0.7" stroke-linejoin="round"/>
<line x1="215.5" y1="364.4" x2="227.6" y2="358.2" stroke="#2e2e2e" stroke-width="1.1"/>
<line x1="216.8" y1="366.5" x2="228.3" y2="360.5" stroke="#2e2e2e" stroke-width="1.1"/>
<line x1="218.0" y1="368.6" x2="229.0" y2="362.8" stroke="#2e2e2e" stroke-width="1.1"/>
<line x1="219.2" y1="370.7" x2="229.7" y2="365.1" stroke="#2e2e2e" stroke-width="1.1"/>
<polygon points="232.5,356.0 243.5,349.0 253.5,355.0 254.6,361.0 253.0,366.5 244.0,373.5 239.5,380.0 231.0,372.0" fill="#6d6d6d" stroke="#1e1e1e" stroke-width="0.6" stroke-linejoin="round"/>
<ellipse cx="236.3" cy="368.3" rx="6.8" ry="8.2" fill="#4a4a4a" stroke="#1e1e1e" stroke-width="0.8" transform="rotate(-28 236.3 368.3)"/>
<ellipse cx="236" cy="368.6" rx="4.6" ry="5.8" fill="#8a8a8a" stroke="#2a2a2a" stroke-width="0.7" transform="rotate(-28 236 368.6)"/>
<ellipse cx="235.8" cy="368.8" rx="2.2" ry="2.9" fill="#3a3a3a" transform="rotate(-28 235.8 368.8)"/>
<polygon points="134.0,363.5 187.0,382.5 187.5,386.0 134.5,367.0" fill="#1c1c1c"/>
<polygon points="133.0,336.5 189.0,356.5 187.0,383.0 134.0,364.0" fill="#858585" stroke="#1e1e1e" stroke-width="0.6" stroke-linejoin="round"/>
<line x1="159.5" y1="346" x2="159.5" y2="373" stroke="#333" stroke-width="0.8"/>
<polygon points="189.0,356.5 193.0,359.0 191.0,378.0 187.0,383.0" fill="#3a3a3a"/>
<ellipse cx="138.7" cy="345.0" rx="5.3" ry="5.6" fill="#171717"/>
<ellipse cx="139.4" cy="344.6" rx="3.1" ry="3.3" fill="#2b2b2b"/>
<path d="M138.1,344.2 q2.6,-1 2.8,2.4" fill="none" stroke="#4a4a4a" stroke-width="0.8"/>
<ellipse cx="151.7" cy="351.0" rx="5.3" ry="5.6" fill="#171717"/>
<ellipse cx="152.4" cy="350.6" rx="3.1" ry="3.3" fill="#2b2b2b"/>
<path d="M151.1,350.2 q2.6,-1 2.8,2.4" fill="none" stroke="#4a4a4a" stroke-width="0.8"/>
<ellipse cx="165.2" cy="356.5" rx="5.3" ry="5.6" fill="#171717"/>
<ellipse cx="165.9" cy="356.1" rx="3.1" ry="3.3" fill="#2b2b2b"/>
<path d="M164.6,355.7 q2.6,-1 2.8,2.4" fill="none" stroke="#4a4a4a" stroke-width="0.8"/>
<ellipse cx="179.0" cy="362.0" rx="5.3" ry="5.6" fill="#171717"/>
<ellipse cx="179.7" cy="361.6" rx="3.1" ry="3.3" fill="#2b2b2b"/>
<path d="M178.4,361.2 q2.6,-1 2.8,2.4" fill="none" stroke="#4a4a4a" stroke-width="0.8"/>
<ellipse cx="138.7" cy="359.0" rx="5.3" ry="5.6" fill="#171717"/>
<ellipse cx="139.4" cy="358.6" rx="3.1" ry="3.3" fill="#2b2b2b"/>
<path d="M138.1,358.2 q2.6,-1 2.8,2.4" fill="none" stroke="#4a4a4a" stroke-width="0.8"/>
<ellipse cx="151.7" cy="365.0" rx="5.3" ry="5.6" fill="#171717"/>
<ellipse cx="152.4" cy="364.6" rx="3.1" ry="3.3" fill="#2b2b2b"/>
<path d="M151.1,364.2 q2.6,-1 2.8,2.4" fill="none" stroke="#4a4a4a" stroke-width="0.8"/>
<ellipse cx="165.2" cy="370.5" rx="5.3" ry="5.6" fill="#171717"/>
<ellipse cx="165.9" cy="370.1" rx="3.1" ry="3.3" fill="#2b2b2b"/>
<path d="M164.6,369.7 q2.6,-1 2.8,2.4" fill="none" stroke="#4a4a4a" stroke-width="0.8"/>
<ellipse cx="179.0" cy="376.0" rx="5.3" ry="5.6" fill="#171717"/>
<ellipse cx="179.7" cy="375.6" rx="3.1" ry="3.3" fill="#2b2b2b"/>
<path d="M178.4,375.2 q2.6,-1 2.8,2.4" fill="none" stroke="#4a4a4a" stroke-width="0.8"/>
<ellipse cx="160.5" cy="340" rx="4" ry="2" fill="#f5f5f5"/>
<ellipse cx="172.5" cy="345" rx="4" ry="2" fill="#f5f5f5"/>
<polygon points="132.5,285.0 162.0,297.0 162.0,313.5 132.5,301.5" fill="#565656" stroke="#1e1e1e" stroke-width="0.5" stroke-linejoin="round"/>
<ellipse cx="140.7" cy="298.0" rx="3.9" ry="4.6" fill="#4a4a4a" stroke="#242424" stroke-width="2.3" transform="rotate(-20 140.7 298.0)"/>
<ellipse cx="154.3" cy="303.3" rx="3.9" ry="4.6" fill="#4a4a4a" stroke="#242424" stroke-width="2.3" transform="rotate(-20 154.3 303.3)"/>
<polygon points="128.2,264.5 133.0,264.0 133.0,290.5 129.2,288.0" fill="#a9dcd8" stroke="#2f4f4d" stroke-width="0.6" stroke-linejoin="round"/>
<polygon points="133.0,264.0 170.0,243.6 173.6,246.0 173.6,253.0 138.0,273.0 137.5,292.0 133.0,290.5" fill="#515151" stroke="#1e1e1e" stroke-width="0.7" stroke-linejoin="round"/>
<polygon points="137.8,273.2 173.4,253.0 173.4,259.0 147.0,273.0 147.0,283.0 137.8,279.0" fill="#707070"/>
<polygon points="133.2,273.5 170.4,246.2 171.8,247.2 134.6,275.0" fill="#8d8d8d"/>
<polygon points="167.6,247.4 173.6,246.0 173.6,253.2 167.6,256.4" fill="#7a7a7a" stroke="#1e1e1e" stroke-width="0.5" stroke-linejoin="round"/>
<polygon points="152.7,247.6 166.0,242.3 169.4,244.0 158.4,250.6" fill="#a9dcd8" stroke="#2f4f4d" stroke-width="0.6" stroke-linejoin="round"/>
<polygon points="129.5,264.0 137.0,263.6 139.8,266.2 133.0,272.0 133.0,264.5" fill="#c5e6e3" stroke="#2f4f4d" stroke-width="0.4" stroke-linejoin="round"/>
<polygon points="133.0,264.2 152.9,247.9 158.0,250.8 139.5,267.0" fill="#d9efed"/>
<polygon points="129.2,250.3 152.9,248.1 135.0,263.6 129.6,264.0" fill="#df0a14" stroke="#5a0a0e" stroke-width="0.5" stroke-linejoin="round"/>
<polygon points="129.2,250.3 133.5,263.0 129.6,264.0" fill="#a90a10"/>
<polygon points="137.3,263.9 156.7,250.1 158.5,252.5 139.1,266.3" fill="#303030"/>
<line x1="147" y1="257.5" x2="149.5" y2="260" stroke="#999" stroke-width="0.7"/>
<polygon points="176.0,304.4 218.5,322.5 218.5,325.3 176.0,307.2" fill="#262626"/>
<polygon points="133.0,281.5 172.0,251.2 256.0,285.7 256.0,290.0 218.5,322.5 133.0,286.0" fill="#5f5f5f" stroke="#1e1e1e" stroke-width="0.6" stroke-linejoin="round"/>
<polygon points="218.5,318.5 256.0,286.0 256.0,290.0 218.5,322.5" fill="#7c7c7c" stroke="#1e1e1e" stroke-width="0.4" stroke-linejoin="round"/>
<polygon points="133.0,281.5 172.0,251.2 256.0,285.7 218.5,318.5" fill="#686868" stroke="#1e1e1e" stroke-width="0.5" stroke-linejoin="round"/>
<polygon points="147.5,287.5 157.0,279.5 171.0,285.5 161.5,293.5" fill="#8f8f8f" stroke="#1e1e1e" stroke-width="0.4" stroke-linejoin="round"/>
<polygon points="147.5,287.5 161.5,293.5 161.5,298.0 147.5,292.0" fill="#b4b4b4" stroke="#1e1e1e" stroke-width="0.4" stroke-linejoin="round"/>
<path d="M140.7,281.2 v2.8 a4.9,3.0 0 0 0 9.8,0 v-2.8 z" fill="#1c1c1c" stroke="#1e1e1e" stroke-width="0.7"/>
<ellipse cx="145.6" cy="281.2" rx="4.9" ry="3.0" fill="#686868" stroke="#1e1e1e" stroke-width="0.5"/>
<path d="M154.4,287.0 v2.8 a4.9,3.0 0 0 0 9.8,0 v-2.8 z" fill="#1c1c1c" stroke="#1e1e1e" stroke-width="0.7"/>
<ellipse cx="159.3" cy="287.0" rx="4.9" ry="3.0" fill="#8a8a8a" stroke="#1e1e1e" stroke-width="0.5"/>
<path d="M167.8,292.2 v2.8 a4.9,3.0 0 0 0 9.8,0 v-2.8 z" fill="#1c1c1c" stroke="#1e1e1e" stroke-width="0.7"/>
<ellipse cx="172.7" cy="292.2" rx="4.9" ry="3.0" fill="#686868" stroke="#1e1e1e" stroke-width="0.5"/>
<path d="M188.5,275.8 v2.8 a4.9,3.0 0 0 0 9.8,0 v-2.8 z" fill="#1c1c1c" stroke="#1e1e1e" stroke-width="0.7"/>
<ellipse cx="193.4" cy="275.8" rx="4.9" ry="3.0" fill="#686868" stroke="#1e1e1e" stroke-width="0.5"/>
<path d="M178.5,283.8 v2.8 a4.9,3.0 0 0 0 9.8,0 v-2.8 z" fill="#1c1c1c" stroke="#1e1e1e" stroke-width="0.7"/>
<ellipse cx="183.4" cy="283.8" rx="4.9" ry="3.0" fill="#686868" stroke="#1e1e1e" stroke-width="0.5"/>
<path d="M172.1,256.0 v2.8 a4.9,3.0 0 0 0 9.8,0 v-2.8 z" fill="#1c1c1c" stroke="#1e1e1e" stroke-width="0.7"/>
<ellipse cx="177.0" cy="256.0" rx="4.9" ry="3.0" fill="#686868" stroke="#1e1e1e" stroke-width="0.5"/>
<path d="M184.5,262.3 v2.8 a4.9,3.0 0 0 0 9.8,0 v-2.8 z" fill="#1c1c1c" stroke="#1e1e1e" stroke-width="0.7"/>
<ellipse cx="189.4" cy="262.3" rx="4.9" ry="3.0" fill="#8a8a8a" stroke="#1e1e1e" stroke-width="0.5"/>
<path d="M196.9,268.3 v2.8 a4.9,3.0 0 0 0 9.8,0 v-2.8 z" fill="#1c1c1c" stroke="#1e1e1e" stroke-width="0.7"/>
<ellipse cx="201.8" cy="268.3" rx="4.9" ry="3.0" fill="#686868" stroke="#1e1e1e" stroke-width="0.5"/>
<path d="M194.9,303.0 v2.8 a4.9,3.0 0 0 0 9.8,0 v-2.8 z" fill="#1c1c1c" stroke="#1e1e1e" stroke-width="0.7"/>
<ellipse cx="199.8" cy="303.0" rx="4.9" ry="3.0" fill="#686868" stroke="#1e1e1e" stroke-width="0.5"/>
<path d="M210.3,308.6 v2.8 a4.9,3.0 0 0 0 9.8,0 v-2.8 z" fill="#1c1c1c" stroke="#1e1e1e" stroke-width="0.7"/>
<ellipse cx="215.2" cy="308.6" rx="4.9" ry="3.0" fill="#686868" stroke="#1e1e1e" stroke-width="0.5"/>
<path d="M225.9,279.8 v2.8 a4.9,3.0 0 0 0 9.8,0 v-2.8 z" fill="#1c1c1c" stroke="#1e1e1e" stroke-width="0.7"/>
<ellipse cx="230.8" cy="279.8" rx="4.9" ry="3.0" fill="#686868" stroke="#1e1e1e" stroke-width="0.5"/>
<path d="M239.5,285.0 v2.8 a4.9,3.0 0 0 0 9.8,0 v-2.8 z" fill="#1c1c1c" stroke="#1e1e1e" stroke-width="0.7"/>
<ellipse cx="244.4" cy="285.0" rx="4.9" ry="3.0" fill="#686868" stroke="#1e1e1e" stroke-width="0.5"/>
<polygon points="172.5,247.0 229.0,268.0 229.0,275.5 222.0,278.0 206.0,276.0 190.0,268.5 179.0,260.5 172.5,255.0" fill="#df0a14" stroke="#5a0508" stroke-width="0.5" stroke-linejoin="round"/>
<polygon points="172.5,247.0 229.0,268.0 229.0,271.0 172.5,250.0" fill="#b8080f"/>
<polygon points="179.0,260.5 187.0,254.0 214.0,264.5 206.0,271.5" fill="#e20b15" stroke="#5a0508" stroke-width="0.4" stroke-linejoin="round"/>
<path d="M183.1,256.6 v2.6 a4.9,3.0 0 0 0 9.8,0 v-2.6 z" fill="#3a0508" stroke="#3a0508" stroke-width="0.7"/>
<ellipse cx="188.0" cy="256.6" rx="4.9" ry="3.0" fill="#df0a14" stroke="#3a0508" stroke-width="0.5"/>
<path d="M196.6,261.6 v2.6 a4.9,3.0 0 0 0 9.8,0 v-2.6 z" fill="#3a0508" stroke="#3a0508" stroke-width="0.7"/>
<ellipse cx="201.5" cy="261.6" rx="4.9" ry="3.0" fill="#df0a14" stroke="#3a0508" stroke-width="0.5"/>
<path d="M171.7,256.4 v2.8 a4.9,3.0 0 0 0 9.8,0 v-2.8 z" fill="#1c1c1c" stroke="#1e1e1e" stroke-width="0.7"/>
<ellipse cx="176.6" cy="256.4" rx="4.9" ry="3.0" fill="#686868" stroke="#1e1e1e" stroke-width="0.5"/>
<polygon points="144.2,272.7 164.5,257.5 190.8,267.8 171.8,281.8" fill="#f5f5f5" stroke="#1e1e1e" stroke-width="0.6" stroke-linejoin="round"/>
<polygon points="144.2,272.7 171.8,281.8 171.8,286.2 144.2,277.0" fill="#cfcfcf" stroke="#1e1e1e" stroke-width="0.5" stroke-linejoin="round"/>
<polygon points="171.8,281.8 190.8,267.8 190.8,272.0 171.8,286.2" fill="#e6e6e6" stroke="#1e1e1e" stroke-width="0.5" stroke-linejoin="round"/>
<path d="M158,277.2 L177.6,262.6 M154.3,265 L181.3,274.8" stroke="#777" stroke-width="0.5" fill="none"/>
<path d="M165.1,271.6 v2.8 a4.9,3.0 0 0 0 9.8,0 v-2.8 z" fill="#1a1a1a" stroke="#1e1e1e" stroke-width="0.7"/>
<ellipse cx="170.0" cy="271.6" rx="4.9" ry="3.0" fill="#f5f5f5" stroke="#1e1e1e" stroke-width="0.5"/>
<path d="M174.6,264.2 v2.8 a4.9,3.0 0 0 0 9.8,0 v-2.8 z" fill="#1a1a1a" stroke="#1e1e1e" stroke-width="0.7"/>
<ellipse cx="179.5" cy="264.2" rx="4.9" ry="3.0" fill="#f5f5f5" stroke="#1e1e1e" stroke-width="0.5"/>
<path d="M149.6,270.5 C148.4,264.5 150.4,260.5 153.4,260.0 C155.4,262.0 156.0,265.0 155.6,268.2 L157.0,268.8 C156.6,264.5 158.0,261.5 160.6,261.8 C162.6,264.2 162.8,268.5 162.2,272.5 L155.5,275.5 Z" fill="#fbfbfb" stroke="#4a4a4a" stroke-width="0.6"/>
<path d="M151.6,268.6 c-1.4,-3 -0.8,-6 1,-7.6 c1,2.4 1.2,5 0.8,8.4 z" fill="#bdbdbd"/>
<path d="M158.8,270.6 c-1.4,-3 -0.8,-6 1,-7.6 c1,2.4 1.2,5 0.8,8.4 z" fill="#bdbdbd"/>
<path d="M159.9,262.2 C158.7,256.2 160.7,252.2 163.7,251.7 C165.7,253.7 166.3,256.7 165.9,259.9 L167.3,260.5 C166.9,256.2 168.3,253.2 170.9,253.5 C172.9,255.9 173.1,260.2 172.5,264.2 L165.8,267.2 Z" fill="#fbfbfb" stroke="#4a4a4a" stroke-width="0.6"/>
<path d="M161.9,260.3 c-1.4,-3 -0.8,-6 1,-7.6 c1,2.4 1.2,5 0.8,8.4 z" fill="#bdbdbd"/>
<path d="M169.1,262.3 c-1.4,-3 -0.8,-6 1,-7.6 c1,2.4 1.2,5 0.8,8.4 z" fill="#bdbdbd"/>
<polygon points="158.0,271.0 175.0,257.5 190.0,262.0 190.0,266.0 172.0,279.5 158.0,275.0" fill="#8b8b8b" stroke="#1e1e1e" stroke-width="0.5" stroke-linejoin="round"/>
<polygon points="158.0,271.0 175.0,257.5 190.0,262.0 172.0,275.0" fill="#ababab" stroke="#1e1e1e" stroke-width="0.5" stroke-linejoin="round"/>
<path d="M163.6,266.3 v2.4 a4.9,3.0 0 0 0 9.8,0 v-2.4 z" fill="#1f1f1f" stroke="#1e1e1e" stroke-width="0.7"/>
<ellipse cx="168.5" cy="266.3" rx="4.9" ry="3.0" fill="#6f6f6f" stroke="#1e1e1e" stroke-width="0.5"/>
<path d="M173.6,258.8 v2.4 a4.9,3.0 0 0 0 9.8,0 v-2.4 z" fill="#1f1f1f" stroke="#1e1e1e" stroke-width="0.7"/>
<ellipse cx="178.5" cy="258.8" rx="4.9" ry="3.0" fill="#6f6f6f" stroke="#1e1e1e" stroke-width="0.5"/>
<polygon points="179.5,270.5 186.0,266.0 193.0,269.0 193.0,272.0 186.5,277.5 179.5,274.5" fill="#9d9d9d" stroke="#1e1e1e" stroke-width="0.5" stroke-linejoin="round"/>
<path d="M182.5,271.8 c0.5,-2.2 3,-3 5.6,-1.8 c2.6,1.2 3.8,3.6 3,6" fill="none" stroke="#d0d0d0" stroke-width="1.8"/>
<path d="M182.5,271.8 c0.5,-2.2 3,-3 5.6,-1.8 c2.6,1.2 3.8,3.6 3,6" fill="none" stroke="#333" stroke-width="0.5" transform="translate(0.9,1.1)"/>
<polygon points="173.0,277.5 179.5,273.0 181.0,276.0 174.5,280.5" fill="#f5f5f5" stroke="#555" stroke-width="0.4" stroke-linejoin="round"/>
<polygon points="147.0,285.0 157.0,277.5 183.0,288.0 188.0,301.5 160.0,291.0" fill="#e20b15" stroke="#5a0508" stroke-width="0.4" stroke-linejoin="round"/>
<path d="M153.6,281.0 v2.4 a4.9,3.0 0 0 0 9.8,0 v-2.4 z" fill="#3a0508" stroke="#3a0508" stroke-width="0.7"/>
<ellipse cx="158.5" cy="281.0" rx="4.9" ry="3.0" fill="#df0a14" stroke="#3a0508" stroke-width="0.5"/>
<path d="M167.6,286.5 v2.4 a4.9,3.0 0 0 0 9.8,0 v-2.4 z" fill="#3a0508" stroke="#3a0508" stroke-width="0.7"/>
<ellipse cx="172.5" cy="286.5" rx="4.9" ry="3.0" fill="#df0a14" stroke="#3a0508" stroke-width="0.5"/>
<polygon points="131.5,280.5 188.0,301.5 188.0,329.0 131.5,309.0" fill="#dc0a14" stroke="#4a0508" stroke-width="0.7" stroke-linejoin="round"/>
<line x1="131.5" y1="281.6" x2="188" y2="302.6" stroke="#f0444a" stroke-width="0.8"/>
<ellipse cx="136.7" cy="290.5" rx="4.8" ry="5.2" fill="#2a0305"/>
<ellipse cx="137.2" cy="290.2" rx="2.8" ry="3.1" fill="#7a060c"/>
<path d="M135.9,289.9 q2.5,-1 2.5,2.5" fill="none" stroke="#3d0508" stroke-width="0.9"/>
<ellipse cx="150.7" cy="296.1" rx="4.8" ry="5.2" fill="#2a0305"/>
<ellipse cx="151.2" cy="295.8" rx="2.8" ry="3.1" fill="#7a060c"/>
<path d="M149.9,295.5 q2.5,-1 2.5,2.5" fill="none" stroke="#3d0508" stroke-width="0.9"/>
<ellipse cx="164.7" cy="301.7" rx="4.8" ry="5.2" fill="#2a0305"/>
<ellipse cx="165.2" cy="301.4" rx="2.8" ry="3.1" fill="#7a060c"/>
<path d="M163.9,301.1 q2.5,-1 2.5,2.5" fill="none" stroke="#3d0508" stroke-width="0.9"/>
<ellipse cx="178.7" cy="307.3" rx="4.8" ry="5.2" fill="#2a0305"/>
<ellipse cx="179.2" cy="307.0" rx="2.8" ry="3.1" fill="#7a060c"/>
<path d="M177.9,306.7 q2.5,-1 2.5,2.5" fill="none" stroke="#3d0508" stroke-width="0.9"/>
<ellipse cx="136.7" cy="304.5" rx="4.8" ry="5.2" fill="#2a0305"/>
<ellipse cx="137.2" cy="304.2" rx="2.8" ry="3.1" fill="#7a060c"/>
<path d="M135.9,303.9 q2.5,-1 2.5,2.5" fill="none" stroke="#3d0508" stroke-width="0.9"/>
<ellipse cx="150.7" cy="310.1" rx="4.8" ry="5.2" fill="#2a0305"/>
<ellipse cx="151.2" cy="309.8" rx="2.8" ry="3.1" fill="#7a060c"/>
<path d="M149.9,309.5 q2.5,-1 2.5,2.5" fill="none" stroke="#3d0508" stroke-width="0.9"/>
<ellipse cx="164.7" cy="315.7" rx="4.8" ry="5.2" fill="#2a0305"/>
<ellipse cx="165.2" cy="315.4" rx="2.8" ry="3.1" fill="#7a060c"/>
<path d="M163.9,315.1 q2.5,-1 2.5,2.5" fill="none" stroke="#3d0508" stroke-width="0.9"/>
<ellipse cx="178.7" cy="321.3" rx="4.8" ry="5.2" fill="#2a0305"/>
<ellipse cx="179.2" cy="321.0" rx="2.8" ry="3.1" fill="#7a060c"/>
<path d="M177.9,320.7 q2.5,-1 2.5,2.5" fill="none" stroke="#3d0508" stroke-width="0.9"/>
<polygon points="134.0,274.5 146.0,279.5 146.0,290.0 134.0,285.0" fill="#c3080f" stroke="#4a0508" stroke-width="0.5" stroke-linejoin="round"/>
<polygon points="146.0,279.5 156.0,273.5 156.0,284.0 146.0,290.0" fill="#a9080e" stroke="#4a0508" stroke-width="0.5" stroke-linejoin="round"/>
<polygon points="134.0,274.5 145.0,269.0 156.0,273.5 146.0,279.5" fill="#e20b15" stroke="#4a0508" stroke-width="0.5" stroke-linejoin="round"/>
<path d="M139.8,268.6 v4.2 a4.9,3.0 0 0 0 9.8,0 v-4.2 z" fill="#1a0203" stroke="#1a0203" stroke-width="0.7"/>
<ellipse cx="144.7" cy="268.6" rx="4.9" ry="3.0" fill="#2a0406" stroke="#1a0203" stroke-width="0.5"/>
<path d="M178.8,294.6 v5.6 a8.4,4.6 0 0 0 16.8,0 v-5.6 z" fill="#a0a0a0" stroke="#3c3c3c" stroke-width="0.7"/>
<ellipse cx="187.2" cy="294.6" rx="8.4" ry="4.6" fill="#b8b8b8" stroke="#3c3c3c" stroke-width="0.5"/>
<path d="M184.0,289.0 v5.0 a3.3,1.8 0 0 0 6.6,0 v-5.0 z" fill="#adadad" stroke="#3c3c3c" stroke-width="0.7"/>
<ellipse cx="187.3" cy="289.0" rx="3.3" ry="1.8" fill="#c8c8c8" stroke="#3c3c3c" stroke-width="0.5"/>
<path d="M208.1,270.2 v5.6 a8.4,4.6 0 0 0 16.8,0 v-5.6 z" fill="#a0a0a0" stroke="#3c3c3c" stroke-width="0.7"/>
<ellipse cx="216.5" cy="270.2" rx="8.4" ry="4.6" fill="#b8b8b8" stroke="#3c3c3c" stroke-width="0.5"/>
<path d="M213.3,264.6 v5.0 a3.3,1.8 0 0 0 6.6,0 v-5.0 z" fill="#adadad" stroke="#3c3c3c" stroke-width="0.7"/>
<ellipse cx="216.6" cy="264.6" rx="3.3" ry="1.8" fill="#c8c8c8" stroke="#3c3c3c" stroke-width="0.5"/>
<polygon points="195.8,290.0 203.6,284.4 212.7,286.6 227.0,291.5 217.0,302.0 208.0,303.5 197.0,297.5" fill="#f8b336" stroke="#2e1c04" stroke-width="0.7" stroke-linejoin="round"/>
<path d="M202.4,287.3 v2.6 a4.6,2.8 0 0 0 9.2,0 v-2.6 z" fill="#1e1203" stroke="#1e1203" stroke-width="0.7"/>
<ellipse cx="207.0" cy="287.3" rx="4.6" ry="2.8" fill="#f8b336" stroke="#1e1203" stroke-width="0.5"/>
<path d="M215.6,292.0 v2.6 a4.6,2.8 0 0 0 9.2,0 v-2.6 z" fill="#1e1203" stroke="#1e1203" stroke-width="0.7"/>
<ellipse cx="220.2" cy="292.0" rx="4.6" ry="2.8" fill="#f8b336" stroke="#1e1203" stroke-width="0.5"/>
<path d="M195.2,294.0 v2.6 a4.2,2.6 0 0 0 8.4,0 v-2.6 z" fill="#1e1203" stroke="#1e1203" stroke-width="0.7"/>
<ellipse cx="199.4" cy="294.0" rx="4.2" ry="2.6" fill="#f8b336" stroke="#1e1203" stroke-width="0.5"/>
<path d="M207.2,298.5 v2.6 a4.2,2.6 0 0 0 8.4,0 v-2.6 z" fill="#1e1203" stroke="#1e1203" stroke-width="0.7"/>
<ellipse cx="211.4" cy="298.5" rx="4.2" ry="2.6" fill="#f8b336" stroke="#1e1203" stroke-width="0.5"/>
<polygon points="214.6,301.5 232.6,285.0 246.4,291.2 227.6,307.2" fill="#f9b93f" stroke="#2e1c04" stroke-width="0.8" stroke-linejoin="round"/>
<polygon points="214.6,301.5 227.6,307.2 227.6,311.2 214.6,305.5" fill="#d48f22" stroke="#2e1c04" stroke-width="0.6" stroke-linejoin="round"/>
<polygon points="227.6,307.2 246.4,291.2 246.4,295.2 227.6,311.2" fill="#e09a28" stroke="#2e1c04" stroke-width="0.6" stroke-linejoin="round"/>
<polygon points="220.4,297.4 223.2,294.9 229.6,297.6 226.8,300.1" fill="#f3a92c" stroke="#2e1c04" stroke-width="0.8" stroke-linejoin="round"/>
<polygon points="230.8,289.0 233.6,286.5 240.0,289.2 237.2,291.7" fill="#f3a92c" stroke="#2e1c04" stroke-width="0.8" stroke-linejoin="round"/>
<polygon points="249.0,297.5 256.0,292.5 270.5,298.0 270.5,302.0 262.0,308.0 249.0,301.0" fill="#a90a10" stroke="#5a0508" stroke-width="0.5" stroke-linejoin="round"/>
<polygon points="249.0,297.5 256.0,292.5 270.5,298.0 262.0,304.0" fill="#df0a14" stroke="#5a0508" stroke-width="0.4" stroke-linejoin="round"/>
<polygon points="250.5,296.0 255.5,292.5 269.0,297.5 264.0,301.5" fill="#df0a14" stroke="#4a0508" stroke-width="0.5" stroke-linejoin="round"/>
<path d="M253.3,296.9 C252.5,291.9 253.7,287.5 256.1,287.5 C258.7,287.5 259.1,292.9 258.5,297.5 Z" fill="#c9080f" stroke="#4a0508" stroke-width="0.6"/>
<path d="M260.3,299.1 C259.5,294.1 260.7,289.7 263.1,289.7 C265.7,289.7 266.1,295.1 265.5,299.7 Z" fill="#e8242c" stroke="#4a0508" stroke-width="0.6"/>
<polygon points="231.0,313.5 248.5,300.0 288.5,316.3 288.5,321.0 269.5,336.3 242.0,326.5 231.0,318.0" fill="#d48f22" stroke="#2e1c04" stroke-width="0.6" stroke-linejoin="round"/>
<polygon points="231.0,313.5 248.5,300.0 288.5,316.3 269.5,331.3" fill="#f8b336" stroke="#2e1c04" stroke-width="0.5" stroke-linejoin="round"/>
<polygon points="269.5,331.3 288.5,316.3 288.5,321.0 269.5,336.3" fill="#f2a62e" stroke="#2e1c04" stroke-width="0.5" stroke-linejoin="round"/>
<path d="M244.1,304.0 v2.9 a4.9,3.0 0 0 0 9.8,0 v-2.9 z" fill="#1e1203" stroke="#1e1203" stroke-width="0.7"/>
<ellipse cx="249.0" cy="304.0" rx="4.9" ry="3.0" fill="#f9b132" stroke="#1e1203" stroke-width="0.5"/>
<path d="M258.1,309.0 v2.9 a4.9,3.0 0 0 0 9.8,0 v-2.9 z" fill="#1e1203" stroke="#1e1203" stroke-width="0.7"/>
<ellipse cx="263.0" cy="309.0" rx="4.9" ry="3.0" fill="#f9b132" stroke="#1e1203" stroke-width="0.5"/>
<path d="M272.1,314.2 v2.9 a4.9,3.0 0 0 0 9.8,0 v-2.9 z" fill="#1e1203" stroke="#1e1203" stroke-width="0.7"/>
<ellipse cx="277.0" cy="314.2" rx="4.9" ry="3.0" fill="#f9b132" stroke="#1e1203" stroke-width="0.5"/>
<path d="M234.6,311.0 v2.9 a4.9,3.0 0 0 0 9.8,0 v-2.9 z" fill="#1e1203" stroke="#1e1203" stroke-width="0.7"/>
<ellipse cx="239.5" cy="311.0" rx="4.9" ry="3.0" fill="#f9b132" stroke="#1e1203" stroke-width="0.5"/>
<path d="M248.6,316.3 v2.9 a4.9,3.0 0 0 0 9.8,0 v-2.9 z" fill="#1e1203" stroke="#1e1203" stroke-width="0.7"/>
<ellipse cx="253.5" cy="316.3" rx="4.9" ry="3.0" fill="#f9b132" stroke="#1e1203" stroke-width="0.5"/>
<path d="M262.4,321.6 v2.9 a4.9,3.0 0 0 0 9.8,0 v-2.9 z" fill="#1e1203" stroke="#1e1203" stroke-width="0.7"/>
<ellipse cx="267.3" cy="321.6" rx="4.9" ry="3.0" fill="#f9b132" stroke="#1e1203" stroke-width="0.5"/>
<polygon points="210.5,325.0 222.5,319.0 241.0,326.5 241.0,330.0 231.0,337.0 210.5,328.5" fill="#a90a10" stroke="#5a0508" stroke-width="0.5" stroke-linejoin="round"/>
<polygon points="231.0,333.5 241.0,326.5 241.0,330.0 231.0,337.0" fill="#c3080f"/>
<polygon points="210.5,325.0 222.5,319.0 241.0,326.5 231.0,333.5" fill="#df0a14" stroke="#5a0508" stroke-width="0.4" stroke-linejoin="round"/>
<polygon points="221.2,320.1 226.2,316.6 239.7,321.6 234.7,325.6" fill="#df0a14" stroke="#4a0508" stroke-width="0.5" stroke-linejoin="round"/>
<path d="M224.0,321.0 C223.2,316.0 224.4,311.6 226.8,311.6 C229.4,311.6 229.8,317.0 229.2,321.6 Z" fill="#c9080f" stroke="#4a0508" stroke-width="0.6"/>
<path d="M231.0,323.2 C230.2,318.2 231.4,313.8 233.8,313.8 C236.4,313.8 236.8,319.2 236.2,323.8 Z" fill="#e8242c" stroke="#4a0508" stroke-width="0.6"/>
<polygon points="163.0,212.3 176.3,218.0 176.3,228.0 163.0,222.3" fill="#c3080f" stroke="#4a0508" stroke-width="0.5" stroke-linejoin="round"/>
<polygon points="176.3,218.0 186.2,211.7 186.2,221.0 176.3,228.0" fill="#a9080e" stroke="#4a0508" stroke-width="0.5" stroke-linejoin="round"/>
<polygon points="163.0,212.3 174.2,206.8 186.2,211.7 176.3,218.0" fill="#e20b15" stroke="#4a0508" stroke-width="0.5" stroke-linejoin="round"/>
<path d="M169.7,208.6 v2.6 a4.6,2.8 0 0 0 9.2,0 v-2.6 z" fill="#1a0203" stroke="#1a0203" stroke-width="0.7"/>
<ellipse cx="174.3" cy="208.6" rx="4.6" ry="2.8" fill="#2a0406" stroke="#1a0203" stroke-width="0.5"/>
<line x1="174.4" y1="228" x2="174.4" y2="245" stroke="#36a058" stroke-width="1.7"/>
<polygon points="170.8,242.3 174.4,243.8 178.0,242.3 174.4,252.3" fill="#36a058"/>
</g>
<line x1="47.2" y1="48.2" x2="82.6" y2="33.8" stroke="#2c2c2c" stroke-width="8.6" stroke-linecap="round"/>
<line x1="47.6" y1="48.8" x2="83.0" y2="34.4" stroke="#747474" stroke-width="7.8" stroke-linecap="round"/>
<line x1="48.0" y1="49.3" x2="83.3" y2="34.9" stroke="#747474" stroke-width="7.8" stroke-linecap="round"/>
<line x1="48.3" y1="49.9" x2="83.7" y2="35.5" stroke="#747474" stroke-width="7.8" stroke-linecap="round"/>
<line x1="48.7" y1="50.4" x2="84.1" y2="36.0" stroke="#747474" stroke-width="7.8" stroke-linecap="round"/>
<line x1="49.1" y1="51.0" x2="84.5" y2="36.6" stroke="#747474" stroke-width="7.8" stroke-linecap="round"/>
<line x1="49.5" y1="51.5" x2="84.8" y2="37.1" stroke="#747474" stroke-width="7.8" stroke-linecap="round"/>
<line x1="49.8" y1="52.1" x2="85.2" y2="37.7" stroke="#747474" stroke-width="7.8" stroke-linecap="round"/>
<line x1="47.2" y1="48.2" x2="82.6" y2="33.8" stroke="#747474" stroke-width="7.8" stroke-linecap="round"/>
<line x1="47.6" y1="48.8" x2="83.0" y2="34.4" stroke="#747474" stroke-width="7.8" stroke-linecap="round"/>
<line x1="48.0" y1="49.3" x2="83.3" y2="34.9" stroke="#747474" stroke-width="7.8" stroke-linecap="round"/>
<line x1="48.3" y1="49.9" x2="83.7" y2="35.5" stroke="#747474" stroke-width="7.8" stroke-linecap="round"/>
<line x1="48.7" y1="50.4" x2="84.1" y2="36.0" stroke="#747474" stroke-width="7.8" stroke-linecap="round"/>
<line x1="49.1" y1="51.0" x2="84.5" y2="36.6" stroke="#747474" stroke-width="7.8" stroke-linecap="round"/>
<line x1="49.5" y1="51.5" x2="84.8" y2="37.1" stroke="#747474" stroke-width="7.8" stroke-linecap="round"/>
<line x1="49.8" y1="52.1" x2="85.2" y2="37.7" stroke="#747474" stroke-width="7.8" stroke-linecap="round"/>
<line x1="50.2" y1="52.6" x2="85.6" y2="38.2" stroke="#2c2c2c" stroke-width="8.6" stroke-linecap="round"/>
<line x1="50.2" y1="52.6" x2="85.6" y2="38.2" stroke="#5a5a5a" stroke-width="7.8" stroke-linecap="round"/>
<ellipse cx="50.2" cy="52.6" rx="2.4" ry="2.9" fill="#6f6f6f" stroke="#252525" stroke-width="1.0" transform="rotate(25 50.2 52.6)"/>
<ellipse cx="59.0" cy="49.0" rx="2.4" ry="2.9" fill="#6f6f6f" stroke="#252525" stroke-width="1.0" transform="rotate(25 59.0 49.0)"/>
<ellipse cx="67.9" cy="45.4" rx="2.4" ry="2.9" fill="#6f6f6f" stroke="#252525" stroke-width="1.0" transform="rotate(25 67.9 45.4)"/>
<ellipse cx="76.8" cy="41.8" rx="2.4" ry="2.9" fill="#6f6f6f" stroke="#252525" stroke-width="1.0" transform="rotate(25 76.8 41.8)"/>
<ellipse cx="85.6" cy="38.2" rx="2.4" ry="2.9" fill="#6f6f6f" stroke="#252525" stroke-width="1.0" transform="rotate(25 85.6 38.2)"/>
<line x1="129.6" y1="53.2" x2="148.4" y2="47.2" stroke="#2a2a2a" stroke-width="5.6" stroke-linecap="butt"/>
<line x1="138.1" y1="50.5" x2="139.9" y2="49.9" stroke="#b4b4b4" stroke-width="7.6"/>
<line x1="134.3" y1="51.7" x2="135.6" y2="51.3" stroke="#555" stroke-width="5.6"/>
<ellipse cx="129.6" cy="53.2" rx="1.8" ry="2.8" fill="#8c8c8c" stroke="#2a2a2a" stroke-width="0.8" transform="rotate(-18 129.6 53.2)"/>
<ellipse cx="129.6" cy="53.2" rx="0.8" ry="1.4" fill="#222" transform="rotate(-18 129.6 53.2)"/>
<line x1="178.6" y1="134.8" x2="234.6" y2="157.6" stroke="#2c2c2c" stroke-width="14.4" stroke-linecap="round"/>
<line x1="178.0" y1="135.8" x2="234.0" y2="158.6" stroke="#626262" stroke-width="13.6" stroke-linecap="round"/>
<line x1="177.3" y1="136.8" x2="233.3" y2="159.6" stroke="#626262" stroke-width="13.6" stroke-linecap="round"/>
<line x1="176.7" y1="137.8" x2="232.7" y2="160.6" stroke="#626262" stroke-width="13.6" stroke-linecap="round"/>
<line x1="176.0" y1="138.8" x2="232.0" y2="161.6" stroke="#626262" stroke-width="13.6" stroke-linecap="round"/>
<line x1="175.3" y1="139.8" x2="231.3" y2="162.6" stroke="#626262" stroke-width="13.6" stroke-linecap="round"/>
<line x1="174.7" y1="140.8" x2="230.7" y2="163.6" stroke="#626262" stroke-width="13.6" stroke-linecap="round"/>
<line x1="174.1" y1="141.8" x2="230.1" y2="164.6" stroke="#626262" stroke-width="13.6" stroke-linecap="round"/>
<line x1="178.6" y1="134.8" x2="234.6" y2="157.6" stroke="#626262" stroke-width="13.6" stroke-linecap="round"/>
<line x1="178.0" y1="135.8" x2="234.0" y2="158.6" stroke="#626262" stroke-width="13.6" stroke-linecap="round"/>
<line x1="177.3" y1="136.8" x2="233.3" y2="159.6" stroke="#626262" stroke-width="13.6" stroke-linecap="round"/>
<line x1="176.7" y1="137.8" x2="232.7" y2="160.6" stroke="#626262" stroke-width="13.6" stroke-linecap="round"/>
<line x1="176.0" y1="138.8" x2="232.0" y2="161.6" stroke="#626262" stroke-width="13.6" stroke-linecap="round"/>
<line x1="175.3" y1="139.8" x2="231.3" y2="162.6" stroke="#626262" stroke-width="13.6" stroke-linecap="round"/>
<line x1="174.7" y1="140.8" x2="230.7" y2="163.6" stroke="#626262" stroke-width="13.6" stroke-linecap="round"/>
<line x1="174.1" y1="141.8" x2="230.1" y2="164.6" stroke="#626262" stroke-width="13.6" stroke-linecap="round"/>
<line x1="173.4" y1="142.8" x2="229.4" y2="165.6" stroke="#2c2c2c" stroke-width="14.4" stroke-linecap="round"/>
<line x1="173.4" y1="142.8" x2="229.4" y2="165.6" stroke="#484848" stroke-width="13.6" stroke-linecap="round"/>
<ellipse cx="173.4" cy="142.8" rx="4.3" ry="5.3" fill="#6f6f6f" stroke="#252525" stroke-width="1.8" transform="rotate(-22 173.4 142.8)"/>
<ellipse cx="187.4" cy="148.5" rx="4.3" ry="5.3" fill="#6f6f6f" stroke="#252525" stroke-width="1.8" transform="rotate(-22 187.4 148.5)"/>
<ellipse cx="201.4" cy="154.2" rx="4.3" ry="5.3" fill="#6f6f6f" stroke="#252525" stroke-width="1.8" transform="rotate(-22 201.4 154.2)"/>
<ellipse cx="215.4" cy="159.9" rx="4.3" ry="5.3" fill="#6f6f6f" stroke="#252525" stroke-width="1.8" transform="rotate(-22 215.4 159.9)"/>
<ellipse cx="229.4" cy="165.6" rx="4.3" ry="5.3" fill="#6f6f6f" stroke="#252525" stroke-width="1.8" transform="rotate(-22 229.4 165.6)"/>
<line x1="182.3" y1="201.2" x2="204.2" y2="186.0" stroke="#2a2a2a" stroke-width="7.4" stroke-linecap="butt"/>
<line x1="192.5" y1="194.1" x2="194.0" y2="193.1" stroke="#b4b4b4" stroke-width="9.4"/>
<line x1="187.8" y1="197.4" x2="189.3" y2="196.3" stroke="#555" stroke-width="7.4"/>
<ellipse cx="182.3" cy="201.2" rx="2.4" ry="3.7" fill="#8c8c8c" stroke="#2a2a2a" stroke-width="0.8" transform="rotate(-35 182.3 201.2)"/>
<ellipse cx="182.3" cy="201.2" rx="1.1" ry="1.9" fill="#222" transform="rotate(-35 182.3 201.2)"/>
<line x1="205.5" y1="184.2" x2="223" y2="169.2" stroke="#3aa35c" stroke-width="1.6"/>
<polygon points="228.8,164.2 220.2,166.6 225.0,172.4" fill="#3aa35c"/>
<polygon points="428.0,30.7 445.6,23.0 454.5,27.2 437.0,35.5" fill="#d20a12" stroke="#6e060a" stroke-width="0.4" stroke-linejoin="round"/>
<polygon points="428.0,30.7 437.0,35.5 437.0,38.0 428.0,33.5" fill="#a9080e"/>
<path d="M432.2,29.5 v1.2 a2.8,1.6 0 0 0 5.6,0 v-1.2 z" fill="#6e060a" stroke="#6e060a" stroke-width="0.7"/>
<ellipse cx="435.0" cy="29.5" rx="2.8" ry="1.6" fill="#d20a12" stroke="#6e060a" stroke-width="0.5"/>
<path d="M441.4,25.6 v1.2 a2.8,1.6 0 0 0 5.6,0 v-1.2 z" fill="#6e060a" stroke="#6e060a" stroke-width="0.7"/>
<ellipse cx="444.2" cy="25.6" rx="2.8" ry="1.6" fill="#d20a12" stroke="#6e060a" stroke-width="0.5"/>
<polygon points="425.6,39.8 461.9,25.0 461.9,42.8 425.6,57.3" fill="#e00b14" stroke="#6e060a" stroke-width="0.5" stroke-linejoin="round"/>
<ellipse cx="431.0" cy="42.5" rx="2.7" ry="3.1" fill="#2e0305"/>
<ellipse cx="431.5" cy="42.3" rx="1.5" ry="1.8" fill="#7a060c"/>
<ellipse cx="439.9" cy="38.9" rx="2.7" ry="3.1" fill="#2e0305"/>
<ellipse cx="440.4" cy="38.7" rx="1.5" ry="1.8" fill="#7a060c"/>
<ellipse cx="448.8" cy="35.3" rx="2.7" ry="3.1" fill="#2e0305"/>
<ellipse cx="449.3" cy="35.1" rx="1.5" ry="1.8" fill="#7a060c"/>
<ellipse cx="457.7" cy="31.7" rx="2.7" ry="3.1" fill="#2e0305"/>
<ellipse cx="458.2" cy="31.5" rx="1.5" ry="1.8" fill="#7a060c"/>
<ellipse cx="431.0" cy="51.5" rx="2.7" ry="3.1" fill="#2e0305"/>
<ellipse cx="431.5" cy="51.3" rx="1.5" ry="1.8" fill="#7a060c"/>
<ellipse cx="439.9" cy="47.9" rx="2.7" ry="3.1" fill="#2e0305"/>
<ellipse cx="440.4" cy="47.7" rx="1.5" ry="1.8" fill="#7a060c"/>
<ellipse cx="448.8" cy="44.3" rx="2.7" ry="3.1" fill="#2e0305"/>
<ellipse cx="449.3" cy="44.1" rx="1.5" ry="1.8" fill="#7a060c"/>
<ellipse cx="457.7" cy="40.7" rx="2.7" ry="3.1" fill="#2e0305"/>
<ellipse cx="458.2" cy="40.5" rx="1.5" ry="1.8" fill="#7a060c"/>
<polygon points="409.6,304.6 424.2,296.7 432.6,301.2 432.6,303.6 418.0,312.0 409.6,307.0" fill="#8f9296" stroke="#4d4f52" stroke-width="0.5" stroke-linejoin="round"/>
<polygon points="409.6,304.6 424.2,296.7 432.6,301.2 418.0,309.6" fill="#b5b8bd" stroke="#4d4f52" stroke-width="0.4" stroke-linejoin="round"/>
<polygon points="424.6,306.4 428.0,304.6 430.6,309.0 429.6,312.8 425.2,312.6" fill="#a5a8ad" stroke="#4d4f52" stroke-width="0.4" stroke-linejoin="round"/>
<path d="M414.4,303.0 v1.5 a3.0,1.8 0 0 0 6.0,0 v-1.5 z" fill="#1e1f20" stroke="#1e1f20" stroke-width="0.7"/>
<ellipse cx="417.4" cy="303.0" rx="3.0" ry="1.8" fill="#74777b" stroke="#1e1f20" stroke-width="0.5"/>
<path d="M422.3,299.1 v1.5 a3.0,1.8 0 0 0 6.0,0 v-1.5 z" fill="#1e1f20" stroke="#1e1f20" stroke-width="0.7"/>
<ellipse cx="425.3" cy="299.1" rx="3.0" ry="1.8" fill="#74777b" stroke="#1e1f20" stroke-width="0.5"/>
<polygon points="463.0,301.7 470.3,306.2 470.3,313.0 463.0,308.5" fill="#c3080f" stroke="#6e060a" stroke-width="0.4" stroke-linejoin="round"/>
<polygon points="470.3,306.2 478.2,301.7 478.2,308.5 470.3,313.0" fill="#a9080e" stroke="#6e060a" stroke-width="0.4" stroke-linejoin="round"/>
<polygon points="463.0,301.7 470.9,297.8 478.2,301.7 470.3,306.2" fill="#e00b14" stroke="#6e060a" stroke-width="0.4" stroke-linejoin="round"/>
<path d="M468.0,300.2 v1.6 a2.8,1.6 0 0 0 5.6,0 v-1.6 z" fill="#1e0203" stroke="#1e0203" stroke-width="0.7"/>
<ellipse cx="470.8" cy="300.2" rx="2.8" ry="1.6" fill="#3a0507" stroke="#1e0203" stroke-width="0.5"/>
<g>
<polygon points="608.0,546.0 612.5,546.0 609.0,557.6 603.2,556.6" fill="#e3141c" stroke="#8d0a10" stroke-width="0.4" stroke-linejoin="round"/>
<polygon points="609.5,546.0 614.0,546.0 617.8,555.4 612.6,557.6" fill="#d80f18" stroke="#8d0a10" stroke-width="0.4" stroke-linejoin="round"/>
<polygon points="605.6,537.6 613.6,537.6 614.4,547.0 606.4,547.4" fill="#e3141c" stroke="#8d0a10" stroke-width="0.4" stroke-linejoin="round"/>
<polygon points="613.2,531.0 617.2,529.5 618.8,533.0 615.2,539.5 612.6,538.5" fill="#e3141c" stroke="#8d0a10" stroke-width="0.4" stroke-linejoin="round"/>
<polygon points="603.6,539.0 605.6,538.0 606.0,543.5 603.6,543.5" fill="#d80f18"/>
<circle cx="604.2" cy="544.2" r="1.7" fill="#444"/>
<circle cx="617.4" cy="542.8" r="2.2" fill="#444"/>
<rect x="601.4" y="535.6" width="2" height="5.6" fill="#b89a62"/>
<rect x="607.4" y="528.6" width="7.4" height="9.2" rx="1.5" fill="#7a4a2a"/>
<rect x="607.8" y="529.4" width="6.6" height="2.2" fill="#f2c230"/>
<polygon points="602.6,526.5 607.6,525.5 608.2,536.5 604.8,536.8 602.6,532.0" fill="#b30d16"/>
<ellipse cx="610" cy="524" rx="6.2" ry="5.8" fill="#47240f"/>
<polygon points="603.4,528.4 602.8,524.0 604.4,521.0 606.0,518.6 608.4,519.0 610.8,516.6 612.6,519.0 615.2,519.6 615.6,522.4 617.2,524.6 616.0,527.6 614.8,529.8 609.0,529.4" fill="#47240f"/>
</g>
</svg>
</body></html>
